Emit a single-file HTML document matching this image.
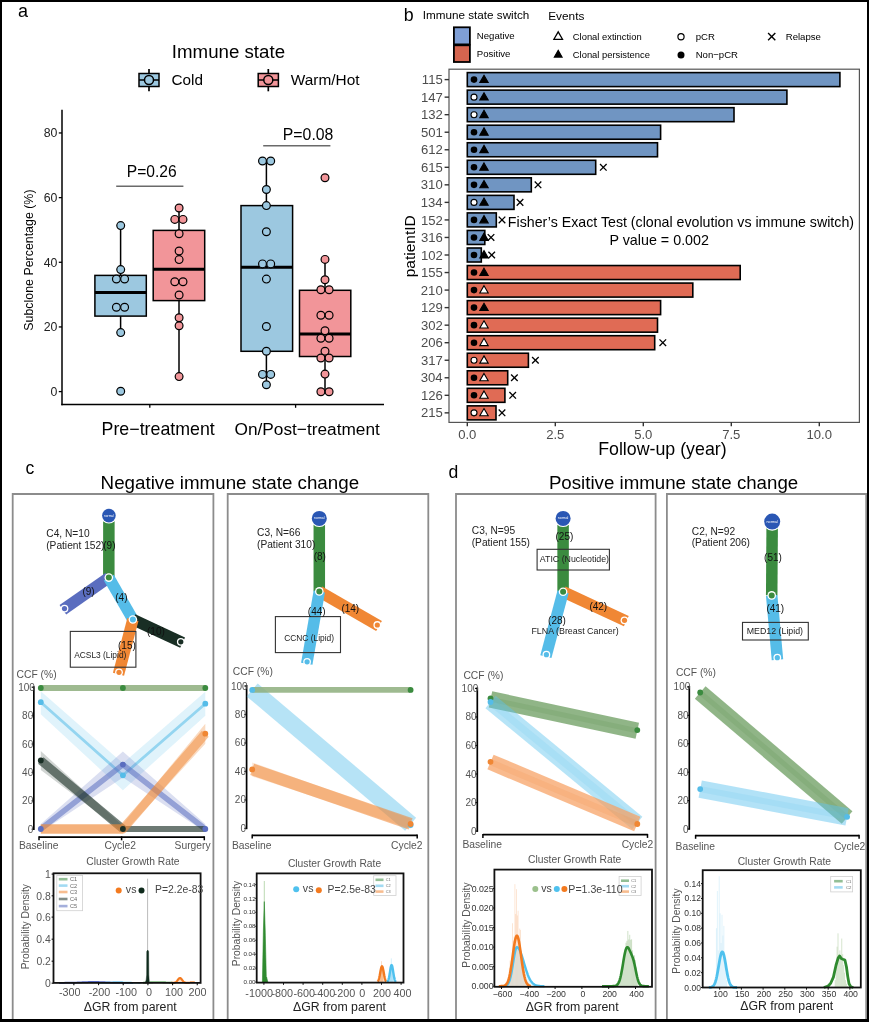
<!DOCTYPE html>
<html><head><meta charset="utf-8"><style>
html,body{margin:0;padding:0;background:#fff;}
svg{display:block;will-change:transform;}
text{font-family:"Liberation Sans", sans-serif;}
</style></head><body>
<svg width="869" height="1022" viewBox="0 0 869 1022">
<rect x="0" y="0" width="869" height="1022" fill="#fff"/>
<text x="18.03" y="17.30" font-size="18.00" fill="#000" text-anchor="start">a</text>
<text x="171.82" y="57.60" font-size="18.70" fill="#000" text-anchor="start">Immune state</text>
<line x1="149.00" y1="69.00" x2="149.00" y2="91.30" stroke="#000" stroke-width="1.70"/>
<rect x="139.00" y="73.50" width="20.00" height="13.00" fill="#9CC8E0" stroke="#000" stroke-width="1.50"/>
<line x1="139.00" y1="80.00" x2="159.00" y2="80.00" stroke="#000" stroke-width="1.50"/>
<circle cx="149.00" cy="80.00" r="4.50" fill="#9CC8E0" stroke="#000" stroke-width="1.50"/>
<text x="171.44" y="85.30" font-size="15.30" fill="#000" text-anchor="start">Cold</text>
<line x1="268.30" y1="69.00" x2="268.30" y2="91.30" stroke="#000" stroke-width="1.70"/>
<rect x="258.20" y="73.50" width="20.20" height="13.00" fill="#F29599" stroke="#000" stroke-width="1.50"/>
<line x1="258.20" y1="80.00" x2="278.40" y2="80.00" stroke="#000" stroke-width="1.50"/>
<circle cx="268.30" cy="80.00" r="4.50" fill="#F29599" stroke="#000" stroke-width="1.50"/>
<text x="290.82" y="85.30" font-size="15.40" fill="#000" text-anchor="start">Warm/Hot</text>
<line x1="62.00" y1="109.80" x2="62.00" y2="405.20" stroke="#000" stroke-width="1.50"/>
<line x1="61.30" y1="404.50" x2="384.00" y2="404.50" stroke="#000" stroke-width="1.50"/>
<line x1="58.80" y1="391.60" x2="62.00" y2="391.60" stroke="#000" stroke-width="1.30"/>
<text x="57.44" y="395.90" font-size="12.30" fill="#222" text-anchor="end">0</text>
<line x1="58.80" y1="326.94" x2="62.00" y2="326.94" stroke="#000" stroke-width="1.30"/>
<text x="57.46" y="331.24" font-size="12.30" fill="#222" text-anchor="end">20</text>
<line x1="58.80" y1="262.28" x2="62.00" y2="262.28" stroke="#000" stroke-width="1.30"/>
<text x="57.46" y="266.58" font-size="12.30" fill="#222" text-anchor="end">40</text>
<line x1="58.80" y1="197.62" x2="62.00" y2="197.62" stroke="#000" stroke-width="1.30"/>
<text x="57.46" y="201.92" font-size="12.30" fill="#222" text-anchor="end">60</text>
<line x1="58.80" y1="132.96" x2="62.00" y2="132.96" stroke="#000" stroke-width="1.30"/>
<text x="57.46" y="137.26" font-size="12.30" fill="#222" text-anchor="end">80</text>
<line x1="149.80" y1="404.50" x2="149.80" y2="407.80" stroke="#000" stroke-width="1.30"/>
<line x1="295.60" y1="404.50" x2="295.60" y2="407.80" stroke="#000" stroke-width="1.30"/>
<text transform="translate(33.30 260.10) rotate(-90)" x="0" y="0" font-size="12.40" fill="#000" text-anchor="middle">Subclone Percentage (%)</text>
<text x="101.58" y="435.10" font-size="17.80" fill="#000" text-anchor="start">Pre−treatment</text>
<text x="234.52" y="435.10" font-size="17.25" fill="#000" text-anchor="start">On/Post−treatment</text>
<line x1="116.20" y1="186.20" x2="183.40" y2="186.20" stroke="#6A6A6A" stroke-width="1.60"/>
<text x="126.75" y="176.80" font-size="15.60" fill="#000" text-anchor="start">P=0.26</text>
<line x1="263.20" y1="145.70" x2="330.40" y2="145.70" stroke="#6A6A6A" stroke-width="1.60"/>
<text x="282.84" y="139.80" font-size="15.80" fill="#000" text-anchor="start">P=0.08</text>
<line x1="120.60" y1="225.60" x2="120.60" y2="275.40" stroke="#000" stroke-width="1.50"/>
<line x1="120.60" y1="316.10" x2="120.60" y2="332.60" stroke="#000" stroke-width="1.50"/>
<rect x="94.90" y="275.40" width="51.40" height="40.70" fill="#9CC8E0" stroke="#000" stroke-width="1.50"/>
<line x1="94.90" y1="292.60" x2="146.30" y2="292.60" stroke="#000" stroke-width="3.00"/>
<line x1="179.00" y1="208.00" x2="179.00" y2="230.40" stroke="#000" stroke-width="1.50"/>
<line x1="179.00" y1="300.60" x2="179.00" y2="376.60" stroke="#000" stroke-width="1.50"/>
<rect x="153.20" y="230.40" width="51.50" height="70.20" fill="#F29599" stroke="#000" stroke-width="1.50"/>
<line x1="153.20" y1="269.30" x2="204.70" y2="269.30" stroke="#000" stroke-width="3.00"/>
<line x1="266.40" y1="161.00" x2="266.40" y2="205.60" stroke="#000" stroke-width="1.50"/>
<line x1="266.40" y1="351.30" x2="266.40" y2="384.70" stroke="#000" stroke-width="1.50"/>
<rect x="241.00" y="205.60" width="51.60" height="145.70" fill="#9CC8E0" stroke="#000" stroke-width="1.50"/>
<line x1="241.00" y1="267.30" x2="292.60" y2="267.30" stroke="#000" stroke-width="3.00"/>
<line x1="325.00" y1="259.40" x2="325.00" y2="290.30" stroke="#000" stroke-width="1.50"/>
<line x1="325.00" y1="356.50" x2="325.00" y2="391.70" stroke="#000" stroke-width="1.50"/>
<rect x="299.50" y="290.30" width="51.30" height="66.20" fill="#F29599" stroke="#000" stroke-width="1.50"/>
<line x1="299.50" y1="334.00" x2="350.80" y2="334.00" stroke="#000" stroke-width="3.00"/>
<circle cx="120.70" cy="225.60" r="3.90" fill="#9CC8E0" stroke="#000" stroke-width="1.20"/>
<circle cx="120.70" cy="269.60" r="3.90" fill="#9CC8E0" stroke="#000" stroke-width="1.20"/>
<circle cx="116.40" cy="279.00" r="3.90" fill="#9CC8E0" stroke="#000" stroke-width="1.20"/>
<circle cx="124.60" cy="279.00" r="3.90" fill="#9CC8E0" stroke="#000" stroke-width="1.20"/>
<circle cx="116.40" cy="307.20" r="3.90" fill="#9CC8E0" stroke="#000" stroke-width="1.20"/>
<circle cx="124.60" cy="307.20" r="3.90" fill="#9CC8E0" stroke="#000" stroke-width="1.20"/>
<circle cx="120.70" cy="332.60" r="3.90" fill="#9CC8E0" stroke="#000" stroke-width="1.20"/>
<circle cx="120.70" cy="391.20" r="3.90" fill="#9CC8E0" stroke="#000" stroke-width="1.20"/>
<circle cx="179.10" cy="208.00" r="3.90" fill="#F29599" stroke="#000" stroke-width="1.20"/>
<circle cx="174.80" cy="219.40" r="3.90" fill="#F29599" stroke="#000" stroke-width="1.20"/>
<circle cx="183.00" cy="219.40" r="3.90" fill="#F29599" stroke="#000" stroke-width="1.20"/>
<circle cx="179.10" cy="233.80" r="3.90" fill="#F29599" stroke="#000" stroke-width="1.20"/>
<circle cx="179.10" cy="251.00" r="3.90" fill="#F29599" stroke="#000" stroke-width="1.20"/>
<circle cx="179.10" cy="259.60" r="3.90" fill="#F29599" stroke="#000" stroke-width="1.20"/>
<circle cx="174.80" cy="281.80" r="3.90" fill="#F29599" stroke="#000" stroke-width="1.20"/>
<circle cx="183.00" cy="281.80" r="3.90" fill="#F29599" stroke="#000" stroke-width="1.20"/>
<circle cx="179.10" cy="295.00" r="3.90" fill="#F29599" stroke="#000" stroke-width="1.20"/>
<circle cx="179.10" cy="317.80" r="3.90" fill="#F29599" stroke="#000" stroke-width="1.20"/>
<circle cx="179.10" cy="325.80" r="3.90" fill="#F29599" stroke="#000" stroke-width="1.20"/>
<circle cx="179.10" cy="376.60" r="3.90" fill="#F29599" stroke="#000" stroke-width="1.20"/>
<circle cx="262.50" cy="161.00" r="3.90" fill="#9CC8E0" stroke="#000" stroke-width="1.20"/>
<circle cx="270.70" cy="161.00" r="3.90" fill="#9CC8E0" stroke="#000" stroke-width="1.20"/>
<circle cx="266.40" cy="189.50" r="3.90" fill="#9CC8E0" stroke="#000" stroke-width="1.20"/>
<circle cx="266.40" cy="205.60" r="3.90" fill="#9CC8E0" stroke="#000" stroke-width="1.20"/>
<circle cx="266.40" cy="231.70" r="3.90" fill="#9CC8E0" stroke="#000" stroke-width="1.20"/>
<circle cx="262.50" cy="263.90" r="3.90" fill="#9CC8E0" stroke="#000" stroke-width="1.20"/>
<circle cx="270.70" cy="263.90" r="3.90" fill="#9CC8E0" stroke="#000" stroke-width="1.20"/>
<circle cx="266.40" cy="279.10" r="3.90" fill="#9CC8E0" stroke="#000" stroke-width="1.20"/>
<circle cx="266.40" cy="326.50" r="3.90" fill="#9CC8E0" stroke="#000" stroke-width="1.20"/>
<circle cx="266.40" cy="351.30" r="3.90" fill="#9CC8E0" stroke="#000" stroke-width="1.20"/>
<circle cx="262.50" cy="374.40" r="3.90" fill="#9CC8E0" stroke="#000" stroke-width="1.20"/>
<circle cx="270.70" cy="374.40" r="3.90" fill="#9CC8E0" stroke="#000" stroke-width="1.20"/>
<circle cx="266.40" cy="384.70" r="3.90" fill="#9CC8E0" stroke="#000" stroke-width="1.20"/>
<circle cx="325.00" cy="177.70" r="3.90" fill="#F29599" stroke="#000" stroke-width="1.20"/>
<circle cx="325.00" cy="259.40" r="3.90" fill="#F29599" stroke="#000" stroke-width="1.20"/>
<circle cx="325.00" cy="279.70" r="3.90" fill="#F29599" stroke="#000" stroke-width="1.20"/>
<circle cx="320.90" cy="289.70" r="3.90" fill="#F29599" stroke="#000" stroke-width="1.20"/>
<circle cx="329.10" cy="289.70" r="3.90" fill="#F29599" stroke="#000" stroke-width="1.20"/>
<circle cx="320.90" cy="315.20" r="3.90" fill="#F29599" stroke="#000" stroke-width="1.20"/>
<circle cx="329.10" cy="315.20" r="3.90" fill="#F29599" stroke="#000" stroke-width="1.20"/>
<circle cx="325.00" cy="330.70" r="3.90" fill="#F29599" stroke="#000" stroke-width="1.20"/>
<circle cx="320.90" cy="338.30" r="3.90" fill="#F29599" stroke="#000" stroke-width="1.20"/>
<circle cx="329.10" cy="338.30" r="3.90" fill="#F29599" stroke="#000" stroke-width="1.20"/>
<circle cx="325.00" cy="351.30" r="3.90" fill="#F29599" stroke="#000" stroke-width="1.20"/>
<circle cx="320.90" cy="358.00" r="3.90" fill="#F29599" stroke="#000" stroke-width="1.20"/>
<circle cx="329.10" cy="358.00" r="3.90" fill="#F29599" stroke="#000" stroke-width="1.20"/>
<circle cx="325.00" cy="374.10" r="3.90" fill="#F29599" stroke="#000" stroke-width="1.20"/>
<circle cx="320.90" cy="391.70" r="3.90" fill="#F29599" stroke="#000" stroke-width="1.20"/>
<circle cx="329.10" cy="391.70" r="3.90" fill="#F29599" stroke="#000" stroke-width="1.20"/>
<text x="403.84" y="21.40" font-size="17.80" fill="#000" text-anchor="start">b</text>
<text x="422.75" y="19.00" font-size="11.70" fill="#000" text-anchor="start">Immune state switch</text>
<text x="548.26" y="19.70" font-size="11.80" fill="#000" text-anchor="start">Events</text>
<rect x="453.90" y="27.30" width="16.00" height="17.10" fill="#7F9FD6" stroke="#000" stroke-width="1.80"/>
<rect x="453.90" y="45.30" width="16.00" height="16.70" fill="#D5654F" stroke="#000" stroke-width="1.80"/>
<text x="476.83" y="39.40" font-size="9.60" fill="#000" text-anchor="start">Negative</text>
<text x="476.83" y="57.00" font-size="9.60" fill="#000" text-anchor="start">Positive</text>
<path d="M558.20 31.83 L562.50 39.28 L553.90 39.28 Z" fill="#fff" stroke="#000" stroke-width="1.30" stroke-linejoin="miter"/>
<path d="M558.20 50.35 L562.10 57.10 L554.30 57.10 Z" fill="#000" stroke="#000" stroke-width="1.10" stroke-linejoin="miter"/>
<text x="572.83" y="39.80" font-size="9.40" fill="#000" text-anchor="start">Clonal extinction</text>
<text x="572.83" y="58.00" font-size="9.40" fill="#000" text-anchor="start">Clonal persistence</text>
<circle cx="681.00" cy="36.80" r="3.10" fill="#fff" stroke="#000" stroke-width="1.20"/>
<circle cx="681.00" cy="54.90" r="3.50" fill="#000" stroke="none" stroke-width="1.00"/>
<text x="695.78" y="39.80" font-size="9.60" fill="#000" text-anchor="start">pCR</text>
<text x="695.63" y="58.00" font-size="9.60" fill="#000" text-anchor="start">Non−pCR</text>
<line x1="768.10" y1="33.10" x2="775.30" y2="40.30" stroke="#000" stroke-width="1.40"/>
<line x1="768.10" y1="40.30" x2="775.30" y2="33.10" stroke="#000" stroke-width="1.40"/>
<text x="785.73" y="39.80" font-size="9.60" fill="#000" text-anchor="start">Relapse</text>
<rect x="449.00" y="69.20" width="410.40" height="353.20" fill="#fff" stroke="#555" stroke-width="1.20"/>
<rect x="467.30" y="72.60" width="372.60" height="14.00" fill="#7095C2" stroke="#000" stroke-width="1.60"/>
<circle cx="474.00" cy="79.60" r="3.30" fill="#000" stroke="none" stroke-width="1.00"/>
<path d="M484.00 75.24 L488.20 82.51 L479.80 82.51 Z" fill="#000" stroke="#000" stroke-width="1.10" stroke-linejoin="miter"/>
<line x1="444.60" y1="79.60" x2="449.00" y2="79.60" stroke="#333" stroke-width="1.40"/>
<text x="442.71" y="84.20" font-size="13.10" fill="#4D4D4D" text-anchor="end">115</text>
<rect x="467.30" y="90.14" width="319.60" height="14.00" fill="#7095C2" stroke="#000" stroke-width="1.60"/>
<circle cx="474.00" cy="97.14" r="3.00" fill="#fff" stroke="#000" stroke-width="1.10"/>
<path d="M484.00 92.78 L488.20 100.05 L479.80 100.05 Z" fill="#000" stroke="#000" stroke-width="1.10" stroke-linejoin="miter"/>
<line x1="444.60" y1="97.14" x2="449.00" y2="97.14" stroke="#333" stroke-width="1.40"/>
<text x="442.90" y="101.74" font-size="13.10" fill="#4D4D4D" text-anchor="end">147</text>
<rect x="467.30" y="107.68" width="266.70" height="14.00" fill="#7095C2" stroke="#000" stroke-width="1.60"/>
<circle cx="474.00" cy="114.68" r="3.00" fill="#fff" stroke="#000" stroke-width="1.10"/>
<path d="M484.00 110.32 L488.20 117.59 L479.80 117.59 Z" fill="#000" stroke="#000" stroke-width="1.10" stroke-linejoin="miter"/>
<line x1="444.60" y1="114.68" x2="449.00" y2="114.68" stroke="#333" stroke-width="1.40"/>
<text x="442.90" y="119.28" font-size="13.10" fill="#4D4D4D" text-anchor="end">132</text>
<rect x="467.30" y="125.22" width="193.30" height="14.00" fill="#7095C2" stroke="#000" stroke-width="1.60"/>
<circle cx="474.00" cy="132.22" r="3.30" fill="#000" stroke="none" stroke-width="1.00"/>
<path d="M484.00 127.86 L488.20 135.13 L479.80 135.13 Z" fill="#000" stroke="#000" stroke-width="1.10" stroke-linejoin="miter"/>
<line x1="444.60" y1="132.22" x2="449.00" y2="132.22" stroke="#333" stroke-width="1.40"/>
<text x="442.84" y="136.82" font-size="13.10" fill="#4D4D4D" text-anchor="end">501</text>
<rect x="467.30" y="142.76" width="190.20" height="14.00" fill="#7095C2" stroke="#000" stroke-width="1.60"/>
<circle cx="474.00" cy="149.76" r="3.30" fill="#000" stroke="none" stroke-width="1.00"/>
<path d="M484.00 145.40 L488.20 152.67 L479.80 152.67 Z" fill="#000" stroke="#000" stroke-width="1.10" stroke-linejoin="miter"/>
<line x1="444.60" y1="149.76" x2="449.00" y2="149.76" stroke="#333" stroke-width="1.40"/>
<text x="442.90" y="154.36" font-size="13.10" fill="#4D4D4D" text-anchor="end">612</text>
<rect x="467.30" y="160.30" width="128.40" height="14.00" fill="#7095C2" stroke="#000" stroke-width="1.60"/>
<circle cx="474.00" cy="167.30" r="3.30" fill="#000" stroke="none" stroke-width="1.00"/>
<path d="M484.00 162.94 L488.20 170.21 L479.80 170.21 Z" fill="#000" stroke="#000" stroke-width="1.10" stroke-linejoin="miter"/>
<line x1="600.00" y1="164.00" x2="606.60" y2="170.60" stroke="#000" stroke-width="1.30"/>
<line x1="600.00" y1="170.60" x2="606.60" y2="164.00" stroke="#000" stroke-width="1.30"/>
<line x1="444.60" y1="167.30" x2="449.00" y2="167.30" stroke="#333" stroke-width="1.40"/>
<text x="442.77" y="171.90" font-size="13.10" fill="#4D4D4D" text-anchor="end">615</text>
<rect x="467.30" y="177.84" width="64.00" height="14.00" fill="#7095C2" stroke="#000" stroke-width="1.60"/>
<circle cx="474.00" cy="184.84" r="3.30" fill="#000" stroke="none" stroke-width="1.00"/>
<path d="M484.00 180.48 L488.20 187.75 L479.80 187.75 Z" fill="#000" stroke="#000" stroke-width="1.10" stroke-linejoin="miter"/>
<line x1="534.70" y1="181.54" x2="541.30" y2="188.14" stroke="#000" stroke-width="1.30"/>
<line x1="534.70" y1="188.14" x2="541.30" y2="181.54" stroke="#000" stroke-width="1.30"/>
<line x1="444.60" y1="184.84" x2="449.00" y2="184.84" stroke="#333" stroke-width="1.40"/>
<text x="442.70" y="189.44" font-size="13.10" fill="#4D4D4D" text-anchor="end">310</text>
<rect x="467.30" y="195.38" width="46.70" height="14.00" fill="#7095C2" stroke="#000" stroke-width="1.60"/>
<circle cx="474.00" cy="202.38" r="3.00" fill="#fff" stroke="#000" stroke-width="1.10"/>
<path d="M484.00 198.02 L488.20 205.29 L479.80 205.29 Z" fill="#000" stroke="#000" stroke-width="1.10" stroke-linejoin="miter"/>
<line x1="516.70" y1="199.08" x2="523.30" y2="205.68" stroke="#000" stroke-width="1.30"/>
<line x1="516.70" y1="205.68" x2="523.30" y2="199.08" stroke="#000" stroke-width="1.30"/>
<line x1="444.60" y1="202.38" x2="449.00" y2="202.38" stroke="#333" stroke-width="1.40"/>
<text x="442.64" y="206.98" font-size="13.10" fill="#4D4D4D" text-anchor="end">134</text>
<rect x="467.30" y="212.92" width="29.00" height="14.00" fill="#7095C2" stroke="#000" stroke-width="1.60"/>
<circle cx="474.00" cy="219.92" r="3.30" fill="#000" stroke="none" stroke-width="1.00"/>
<path d="M484.00 215.56 L488.20 222.83 L479.80 222.83 Z" fill="#000" stroke="#000" stroke-width="1.10" stroke-linejoin="miter"/>
<line x1="498.70" y1="216.62" x2="505.30" y2="223.22" stroke="#000" stroke-width="1.30"/>
<line x1="498.70" y1="223.22" x2="505.30" y2="216.62" stroke="#000" stroke-width="1.30"/>
<line x1="444.60" y1="219.92" x2="449.00" y2="219.92" stroke="#333" stroke-width="1.40"/>
<text x="442.90" y="224.52" font-size="13.10" fill="#4D4D4D" text-anchor="end">152</text>
<rect x="467.30" y="230.46" width="17.50" height="14.00" fill="#7095C2" stroke="#000" stroke-width="1.60"/>
<circle cx="474.00" cy="237.46" r="3.30" fill="#000" stroke="none" stroke-width="1.00"/>
<path d="M484.00 233.10 L488.20 240.37 L479.80 240.37 Z" fill="#000" stroke="#000" stroke-width="1.10" stroke-linejoin="miter"/>
<line x1="487.70" y1="234.16" x2="494.30" y2="240.76" stroke="#000" stroke-width="1.30"/>
<line x1="487.70" y1="240.76" x2="494.30" y2="234.16" stroke="#000" stroke-width="1.30"/>
<line x1="444.60" y1="237.46" x2="449.00" y2="237.46" stroke="#333" stroke-width="1.40"/>
<text x="442.77" y="242.06" font-size="13.10" fill="#4D4D4D" text-anchor="end">316</text>
<rect x="467.30" y="248.00" width="14.00" height="14.00" fill="#7095C2" stroke="#000" stroke-width="1.60"/>
<circle cx="474.00" cy="255.00" r="3.30" fill="#000" stroke="none" stroke-width="1.00"/>
<path d="M484.00 250.64 L488.20 257.91 L479.80 257.91 Z" fill="#000" stroke="#000" stroke-width="1.10" stroke-linejoin="miter"/>
<line x1="488.40" y1="251.70" x2="495.00" y2="258.30" stroke="#000" stroke-width="1.30"/>
<line x1="488.40" y1="258.30" x2="495.00" y2="251.70" stroke="#000" stroke-width="1.30"/>
<line x1="444.60" y1="255.00" x2="449.00" y2="255.00" stroke="#333" stroke-width="1.40"/>
<text x="442.90" y="259.60" font-size="13.10" fill="#4D4D4D" text-anchor="end">102</text>
<rect x="467.30" y="265.54" width="272.90" height="14.00" fill="#E06B55" stroke="#000" stroke-width="1.60"/>
<circle cx="474.00" cy="272.54" r="3.30" fill="#000" stroke="none" stroke-width="1.00"/>
<path d="M484.00 268.18 L488.20 275.45 L479.80 275.45 Z" fill="#000" stroke="#000" stroke-width="1.10" stroke-linejoin="miter"/>
<line x1="444.60" y1="272.54" x2="449.00" y2="272.54" stroke="#333" stroke-width="1.40"/>
<text x="442.77" y="277.14" font-size="13.10" fill="#4D4D4D" text-anchor="end">155</text>
<rect x="467.30" y="283.08" width="225.50" height="14.00" fill="#E06B55" stroke="#000" stroke-width="1.60"/>
<circle cx="474.00" cy="290.08" r="3.30" fill="#000" stroke="none" stroke-width="1.00"/>
<path d="M484.00 285.72 L488.20 292.99 L479.80 292.99 Z" fill="#fff" stroke="#000" stroke-width="1.10" stroke-linejoin="miter"/>
<line x1="444.60" y1="290.08" x2="449.00" y2="290.08" stroke="#333" stroke-width="1.40"/>
<text x="442.70" y="294.68" font-size="13.10" fill="#4D4D4D" text-anchor="end">210</text>
<rect x="467.30" y="300.62" width="193.30" height="14.00" fill="#E06B55" stroke="#000" stroke-width="1.60"/>
<circle cx="474.00" cy="307.62" r="3.30" fill="#000" stroke="none" stroke-width="1.00"/>
<path d="M484.00 303.26 L488.20 310.53 L479.80 310.53 Z" fill="#000" stroke="#000" stroke-width="1.10" stroke-linejoin="miter"/>
<line x1="444.60" y1="307.62" x2="449.00" y2="307.62" stroke="#333" stroke-width="1.40"/>
<text x="442.84" y="312.22" font-size="13.10" fill="#4D4D4D" text-anchor="end">129</text>
<rect x="467.30" y="318.16" width="190.20" height="14.00" fill="#E06B55" stroke="#000" stroke-width="1.60"/>
<circle cx="474.00" cy="325.16" r="3.30" fill="#000" stroke="none" stroke-width="1.00"/>
<path d="M484.00 320.80 L488.20 328.07 L479.80 328.07 Z" fill="#fff" stroke="#000" stroke-width="1.10" stroke-linejoin="miter"/>
<line x1="444.60" y1="325.16" x2="449.00" y2="325.16" stroke="#333" stroke-width="1.40"/>
<text x="442.90" y="329.76" font-size="13.10" fill="#4D4D4D" text-anchor="end">302</text>
<rect x="467.30" y="335.70" width="187.40" height="14.00" fill="#E06B55" stroke="#000" stroke-width="1.60"/>
<circle cx="474.00" cy="342.70" r="3.30" fill="#000" stroke="none" stroke-width="1.00"/>
<path d="M484.00 338.34 L488.20 345.61 L479.80 345.61 Z" fill="#fff" stroke="#000" stroke-width="1.10" stroke-linejoin="miter"/>
<line x1="659.50" y1="339.40" x2="666.10" y2="346.00" stroke="#000" stroke-width="1.30"/>
<line x1="659.50" y1="346.00" x2="666.10" y2="339.40" stroke="#000" stroke-width="1.30"/>
<line x1="444.60" y1="342.70" x2="449.00" y2="342.70" stroke="#333" stroke-width="1.40"/>
<text x="442.77" y="347.30" font-size="13.10" fill="#4D4D4D" text-anchor="end">206</text>
<rect x="467.30" y="353.24" width="61.10" height="14.00" fill="#E06B55" stroke="#000" stroke-width="1.60"/>
<circle cx="474.00" cy="360.24" r="3.00" fill="#fff" stroke="#000" stroke-width="1.10"/>
<path d="M484.00 355.88 L488.20 363.15 L479.80 363.15 Z" fill="#fff" stroke="#000" stroke-width="1.10" stroke-linejoin="miter"/>
<line x1="532.10" y1="356.94" x2="538.70" y2="363.54" stroke="#000" stroke-width="1.30"/>
<line x1="532.10" y1="363.54" x2="538.70" y2="356.94" stroke="#000" stroke-width="1.30"/>
<line x1="444.60" y1="360.24" x2="449.00" y2="360.24" stroke="#333" stroke-width="1.40"/>
<text x="442.90" y="364.84" font-size="13.10" fill="#4D4D4D" text-anchor="end">317</text>
<rect x="467.30" y="370.78" width="40.40" height="14.00" fill="#E06B55" stroke="#000" stroke-width="1.60"/>
<circle cx="474.00" cy="377.78" r="3.30" fill="#000" stroke="none" stroke-width="1.00"/>
<path d="M484.00 373.42 L488.20 380.69 L479.80 380.69 Z" fill="#fff" stroke="#000" stroke-width="1.10" stroke-linejoin="miter"/>
<line x1="511.10" y1="374.48" x2="517.70" y2="381.08" stroke="#000" stroke-width="1.30"/>
<line x1="511.10" y1="381.08" x2="517.70" y2="374.48" stroke="#000" stroke-width="1.30"/>
<line x1="444.60" y1="377.78" x2="449.00" y2="377.78" stroke="#333" stroke-width="1.40"/>
<text x="442.64" y="382.38" font-size="13.10" fill="#4D4D4D" text-anchor="end">304</text>
<rect x="467.30" y="388.32" width="37.60" height="14.00" fill="#E06B55" stroke="#000" stroke-width="1.60"/>
<circle cx="474.00" cy="395.32" r="3.30" fill="#000" stroke="none" stroke-width="1.00"/>
<path d="M484.00 390.96 L488.20 398.23 L479.80 398.23 Z" fill="#fff" stroke="#000" stroke-width="1.10" stroke-linejoin="miter"/>
<line x1="509.40" y1="392.02" x2="516.00" y2="398.62" stroke="#000" stroke-width="1.30"/>
<line x1="509.40" y1="398.62" x2="516.00" y2="392.02" stroke="#000" stroke-width="1.30"/>
<line x1="444.60" y1="395.32" x2="449.00" y2="395.32" stroke="#333" stroke-width="1.40"/>
<text x="442.77" y="399.92" font-size="13.10" fill="#4D4D4D" text-anchor="end">126</text>
<rect x="467.30" y="405.86" width="28.70" height="14.00" fill="#E06B55" stroke="#000" stroke-width="1.60"/>
<circle cx="474.00" cy="412.86" r="3.00" fill="#fff" stroke="#000" stroke-width="1.10"/>
<path d="M484.00 408.50 L488.20 415.77 L479.80 415.77 Z" fill="#fff" stroke="#000" stroke-width="1.10" stroke-linejoin="miter"/>
<line x1="498.70" y1="409.56" x2="505.30" y2="416.16" stroke="#000" stroke-width="1.30"/>
<line x1="498.70" y1="416.16" x2="505.30" y2="409.56" stroke="#000" stroke-width="1.30"/>
<line x1="444.60" y1="412.86" x2="449.00" y2="412.86" stroke="#333" stroke-width="1.40"/>
<text x="442.77" y="417.46" font-size="13.10" fill="#4D4D4D" text-anchor="end">215</text>
<line x1="467.30" y1="422.30" x2="467.30" y2="426.30" stroke="#333" stroke-width="1.40"/>
<text x="467.30" y="438.60" font-size="13.10" fill="#4D4D4D" text-anchor="middle">0.0</text>
<line x1="555.30" y1="422.30" x2="555.30" y2="426.30" stroke="#333" stroke-width="1.40"/>
<text x="555.30" y="438.60" font-size="13.10" fill="#4D4D4D" text-anchor="middle">2.5</text>
<line x1="643.30" y1="422.30" x2="643.30" y2="426.30" stroke="#333" stroke-width="1.40"/>
<text x="643.30" y="438.60" font-size="13.10" fill="#4D4D4D" text-anchor="middle">5.0</text>
<line x1="731.30" y1="422.30" x2="731.30" y2="426.30" stroke="#333" stroke-width="1.40"/>
<text x="731.30" y="438.60" font-size="13.10" fill="#4D4D4D" text-anchor="middle">7.5</text>
<line x1="819.30" y1="422.30" x2="819.30" y2="426.30" stroke="#333" stroke-width="1.40"/>
<text x="819.30" y="438.60" font-size="13.10" fill="#4D4D4D" text-anchor="middle">10.0</text>
<text x="598.18" y="454.50" font-size="17.80" fill="#000" text-anchor="start">Follow-up (year)</text>
<text transform="translate(414.50 246.30) rotate(-90)" x="0" y="0" font-size="15.50" fill="#000" text-anchor="middle">patientID</text>
<text x="507.86" y="227.30" font-size="14.20" fill="#000" text-anchor="start">Fisher’s Exact Test (clonal evolution vs immune switch)</text>
<text x="609.46" y="244.70" font-size="14.30" fill="#000" text-anchor="start">P value = 0.002</text>
<path d="M12.70 1022 L12.70 494 L213.40 494 L213.40 1022" fill="none" stroke="#8C8C8C" stroke-width="1.80"/>
<path d="M227.70 1022 L227.70 494 L428.30 494 L428.30 1022" fill="none" stroke="#8C8C8C" stroke-width="1.80"/>
<path d="M456.00 1022 L456.00 494 L655.60 494 L655.60 1022" fill="none" stroke="#8C8C8C" stroke-width="1.80"/>
<path d="M666.90 1022 L666.90 494 L866.20 494 L866.20 1022" fill="none" stroke="#8C8C8C" stroke-width="1.80"/>
<text x="25.50" y="474.10" font-size="17.60" fill="#000" text-anchor="start">c</text>
<text x="100.60" y="488.60" font-size="18.75" fill="#000" text-anchor="start">Negative immune state change</text>
<text x="448.50" y="477.60" font-size="17.60" fill="#000" text-anchor="start">d</text>
<text x="548.90" y="488.60" font-size="18.70" fill="#000" text-anchor="start">Positive immune state change</text>
<line x1="108.90" y1="515.60" x2="108.80" y2="577.60" stroke="#3B8B3F" stroke-width="11.50"/>
<line x1="108.80" y1="577.60" x2="62.86" y2="609.75" stroke="#5A6DBF" stroke-width="11.50"/>
<line x1="108.80" y1="577.60" x2="132.90" y2="619.50" stroke="#55BCE8" stroke-width="11.50"/>
<line x1="132.90" y1="619.50" x2="182.61" y2="642.64" stroke="#192E24" stroke-width="11.50"/>
<line x1="132.90" y1="619.50" x2="118.49" y2="674.23" stroke="#F08734" stroke-width="11.50"/>
<rect x="70.30" y="631.40" width="65.60" height="35.80" fill="none" stroke="#333" stroke-width="1.10"/>
<circle cx="108.90" cy="515.60" r="8.00" fill="#fff" stroke="none" stroke-width="1.00"/>
<circle cx="108.90" cy="515.60" r="6.80" fill="#2A57B4" stroke="none" stroke-width="1.00"/>
<text x="108.90" y="516.60" font-size="3.13" fill="#fff" text-anchor="middle">normal</text>
<circle cx="108.80" cy="577.60" r="4.30" fill="#fff" stroke="none" stroke-width="1.00"/>
<circle cx="108.80" cy="577.60" r="3.00" fill="#3B8B3F" stroke="none" stroke-width="1.00"/>
<circle cx="132.90" cy="619.50" r="4.30" fill="#fff" stroke="none" stroke-width="1.00"/>
<circle cx="132.90" cy="619.50" r="3.00" fill="#55BCE8" stroke="none" stroke-width="1.00"/>
<circle cx="64.50" cy="608.60" r="3.90" fill="#fff" stroke="none" stroke-width="1.00"/>
<circle cx="64.50" cy="608.60" r="2.60" fill="#5A6DBF" stroke="none" stroke-width="1.00"/>
<circle cx="180.80" cy="641.80" r="3.90" fill="#fff" stroke="none" stroke-width="1.00"/>
<circle cx="180.80" cy="641.80" r="2.60" fill="#192E24" stroke="none" stroke-width="1.00"/>
<circle cx="119.00" cy="672.30" r="3.90" fill="#fff" stroke="none" stroke-width="1.00"/>
<circle cx="119.00" cy="672.30" r="2.60" fill="#F08734" stroke="none" stroke-width="1.00"/>
<text x="46.29" y="536.80" font-size="10.20" fill="#222" text-anchor="start">C4, N=10</text>
<text x="46.19" y="548.90" font-size="10.20" fill="#222" text-anchor="start">(Patient 152)</text>
<text x="109.40" y="548.90" font-size="10.00" fill="#111" text-anchor="middle">(9)</text>
<text x="88.50" y="595.40" font-size="10.00" fill="#111" text-anchor="middle">(9)</text>
<text x="121.40" y="601.00" font-size="10.00" fill="#111" text-anchor="middle">(4)</text>
<text x="155.90" y="634.50" font-size="10.00" fill="#111" text-anchor="middle">(10)</text>
<text x="126.90" y="648.50" font-size="10.00" fill="#111" text-anchor="middle">(15)</text>
<text x="74.20" y="657.50" font-size="8.40" fill="#222" text-anchor="start">ACSL3 (Lipid)</text>
<line x1="319.30" y1="518.40" x2="319.30" y2="591.40" stroke="#3B8B3F" stroke-width="11.50"/>
<line x1="319.30" y1="591.40" x2="379.03" y2="626.00" stroke="#F08734" stroke-width="11.50"/>
<line x1="319.30" y1="591.40" x2="306.76" y2="663.77" stroke="#55BCE8" stroke-width="11.50"/>
<rect x="275.40" y="616.60" width="65.10" height="36.00" fill="none" stroke="#333" stroke-width="1.10"/>
<circle cx="319.30" cy="518.40" r="8.70" fill="#fff" stroke="none" stroke-width="1.00"/>
<circle cx="319.30" cy="518.40" r="7.50" fill="#2A57B4" stroke="none" stroke-width="1.00"/>
<text x="319.30" y="519.40" font-size="3.45" fill="#fff" text-anchor="middle">normal</text>
<circle cx="319.30" cy="591.40" r="4.30" fill="#fff" stroke="none" stroke-width="1.00"/>
<circle cx="319.30" cy="591.40" r="3.00" fill="#3B8B3F" stroke="none" stroke-width="1.00"/>
<circle cx="377.30" cy="625.00" r="3.90" fill="#fff" stroke="none" stroke-width="1.00"/>
<circle cx="377.30" cy="625.00" r="2.60" fill="#F08734" stroke="none" stroke-width="1.00"/>
<circle cx="307.10" cy="661.80" r="3.90" fill="#fff" stroke="none" stroke-width="1.00"/>
<circle cx="307.10" cy="661.80" r="2.60" fill="#55BCE8" stroke="none" stroke-width="1.00"/>
<text x="257.09" y="536.40" font-size="10.20" fill="#222" text-anchor="start">C3, N=66</text>
<text x="256.99" y="548.30" font-size="10.20" fill="#222" text-anchor="start">(Patient 310)</text>
<text x="319.80" y="559.80" font-size="10.00" fill="#111" text-anchor="middle">(8)</text>
<text x="350.30" y="612.00" font-size="10.00" fill="#111" text-anchor="middle">(14)</text>
<text x="316.70" y="615.10" font-size="10.00" fill="#111" text-anchor="middle">(44)</text>
<text x="284.18" y="640.70" font-size="8.40" fill="#222" text-anchor="start">CCNC (Lipid)</text>
<line x1="563.10" y1="518.40" x2="563.10" y2="591.80" stroke="#3B8B3F" stroke-width="11.50"/>
<line x1="563.10" y1="591.80" x2="626.31" y2="621.14" stroke="#F08734" stroke-width="11.50"/>
<line x1="563.10" y1="591.80" x2="545.89" y2="656.63" stroke="#55BCE8" stroke-width="11.50"/>
<rect x="537.10" y="549.30" width="72.30" height="20.70" fill="none" stroke="#333" stroke-width="1.10"/>
<circle cx="563.10" cy="518.40" r="8.70" fill="#fff" stroke="none" stroke-width="1.00"/>
<circle cx="563.10" cy="518.40" r="7.50" fill="#2A57B4" stroke="none" stroke-width="1.00"/>
<text x="563.10" y="519.40" font-size="3.45" fill="#fff" text-anchor="middle">normal</text>
<circle cx="563.10" cy="591.80" r="4.30" fill="#fff" stroke="none" stroke-width="1.00"/>
<circle cx="563.10" cy="591.80" r="3.00" fill="#3B8B3F" stroke="none" stroke-width="1.00"/>
<circle cx="624.50" cy="620.30" r="3.90" fill="#fff" stroke="none" stroke-width="1.00"/>
<circle cx="624.50" cy="620.30" r="2.60" fill="#F08734" stroke="none" stroke-width="1.00"/>
<circle cx="546.40" cy="654.70" r="3.90" fill="#fff" stroke="none" stroke-width="1.00"/>
<circle cx="546.40" cy="654.70" r="2.60" fill="#55BCE8" stroke="none" stroke-width="1.00"/>
<text x="471.79" y="534.30" font-size="10.20" fill="#222" text-anchor="start">C3, N=95</text>
<text x="471.69" y="546.20" font-size="10.20" fill="#222" text-anchor="start">(Patient 155)</text>
<text x="564.40" y="539.70" font-size="10.00" fill="#111" text-anchor="middle">(25)</text>
<text x="598.30" y="610.10" font-size="10.00" fill="#111" text-anchor="middle">(42)</text>
<text x="557.00" y="623.90" font-size="10.00" fill="#111" text-anchor="middle">(28)</text>
<text x="539.80" y="562.00" font-size="8.80" fill="#222" text-anchor="start">ATIC (Nucleotide)</text>
<text x="531.39" y="634.30" font-size="8.90" fill="#222" text-anchor="start">FLNA (Breast Cancer)</text>
<line x1="772.20" y1="521.60" x2="771.70" y2="595.40" stroke="#3B8B3F" stroke-width="11.50"/>
<line x1="771.70" y1="595.40" x2="777.48" y2="659.69" stroke="#55BCE8" stroke-width="11.50"/>
<rect x="742.50" y="622.40" width="65.80" height="17.60" fill="none" stroke="#333" stroke-width="1.10"/>
<circle cx="772.20" cy="521.60" r="9.20" fill="#fff" stroke="none" stroke-width="1.00"/>
<circle cx="772.20" cy="521.60" r="8.00" fill="#2A57B4" stroke="none" stroke-width="1.00"/>
<text x="772.20" y="522.60" font-size="3.68" fill="#fff" text-anchor="middle">normal</text>
<circle cx="771.70" cy="595.40" r="4.30" fill="#fff" stroke="none" stroke-width="1.00"/>
<circle cx="771.70" cy="595.40" r="3.00" fill="#3B8B3F" stroke="none" stroke-width="1.00"/>
<circle cx="777.30" cy="657.70" r="3.90" fill="#fff" stroke="none" stroke-width="1.00"/>
<circle cx="777.30" cy="657.70" r="2.60" fill="#55BCE8" stroke="none" stroke-width="1.00"/>
<text x="691.79" y="535.00" font-size="10.20" fill="#222" text-anchor="start">C2, N=92</text>
<text x="691.69" y="546.30" font-size="10.20" fill="#222" text-anchor="start">(Patient 206)</text>
<text x="773.00" y="560.50" font-size="10.00" fill="#111" text-anchor="middle">(51)</text>
<text x="775.30" y="611.60" font-size="10.00" fill="#111" text-anchor="middle">(41)</text>
<text x="746.80" y="634.20" font-size="8.80" fill="#222" text-anchor="start">MED12 (Lipid)</text>
<line x1="33.85" y1="686.20" x2="33.85" y2="830.00" stroke="#000" stroke-width="1.70"/>
<line x1="31.65" y1="829.20" x2="33.85" y2="829.20" stroke="#000" stroke-width="1.20"/>
<text x="33.21" y="832.70" font-size="10.00" fill="#555" text-anchor="end">0</text>
<line x1="31.65" y1="800.80" x2="33.85" y2="800.80" stroke="#000" stroke-width="1.20"/>
<text x="33.22" y="804.30" font-size="10.00" fill="#555" text-anchor="end">20</text>
<line x1="31.65" y1="772.40" x2="33.85" y2="772.40" stroke="#000" stroke-width="1.20"/>
<text x="33.22" y="775.90" font-size="10.00" fill="#555" text-anchor="end">40</text>
<line x1="31.65" y1="744.00" x2="33.85" y2="744.00" stroke="#000" stroke-width="1.20"/>
<text x="33.22" y="747.50" font-size="10.00" fill="#555" text-anchor="end">60</text>
<line x1="31.65" y1="715.60" x2="33.85" y2="715.60" stroke="#000" stroke-width="1.20"/>
<text x="33.22" y="719.10" font-size="10.00" fill="#555" text-anchor="end">80</text>
<line x1="31.65" y1="687.20" x2="33.85" y2="687.20" stroke="#000" stroke-width="1.20"/>
<text x="34.84" y="690.70" font-size="10.00" fill="#555" text-anchor="end">100</text>
<line x1="39.00" y1="837.10" x2="204.50" y2="837.10" stroke="#000" stroke-width="1.70"/>
<line x1="39.00" y1="836.30" x2="39.00" y2="840.30" stroke="#000" stroke-width="1.50"/>
<line x1="121.60" y1="836.30" x2="121.60" y2="840.30" stroke="#000" stroke-width="1.50"/>
<line x1="204.30" y1="836.30" x2="204.30" y2="840.30" stroke="#000" stroke-width="1.50"/>
<text x="16.59" y="678.10" font-size="10.30" fill="#555" text-anchor="start">CCF (%)</text>
<text x="18.88" y="849.00" font-size="10.30" fill="#555" text-anchor="start">Baseline</text>
<text x="104.48" y="849.00" font-size="10.30" fill="#555" text-anchor="start">Cycle2</text>
<text x="174.54" y="849.00" font-size="10.30" fill="#555" text-anchor="start">Surgery</text>
<text x="86.28" y="865.00" font-size="10.30" fill="#555" text-anchor="start">Cluster Growth Rate</text>
<path d="M40.80 691.20 L122.90 763.30 L205.30 691.70 L205.30 715.70 L122.90 790.30 L40.80 714.20 Z" fill="#55BCE8" stroke="none" stroke-width="1.00" fill-opacity="0.18"/>
<path d="M40.80 702.20 L122.90 775.30 L205.30 703.70" fill="none" stroke="#55BCE8" stroke-width="2.80" stroke-opacity="0.55" stroke-linecap="butt" stroke-linejoin="round"/>
<path d="M40.80 824.00 L122.90 751.60 L205.30 824.00 L205.30 832.00 L122.90 777.60 L40.80 832.00 Z" fill="#5A6DBF" stroke="none" stroke-width="1.00" fill-opacity="0.22"/>
<path d="M40.80 829.00 L122.90 764.60 L205.30 829.00" fill="none" stroke="#5A6DBF" stroke-width="5.50" stroke-opacity="0.55" stroke-linecap="butt" stroke-linejoin="round"/>
<path d="M40.80 751.00 L122.90 826.00 L205.30 826.00 L205.30 832.00 L122.90 832.00 L40.80 770.00 Z" fill="#192E24" stroke="none" stroke-width="1.00" fill-opacity="0.20"/>
<path d="M40.80 760.50 L122.90 829.00" fill="none" stroke="#192E24" stroke-width="8.50" stroke-opacity="0.60" stroke-linecap="butt" stroke-linejoin="round"/>
<path d="M122.90 829.00 L205.30 829.00" fill="none" stroke="#192E24" stroke-width="6.00" stroke-opacity="0.55" stroke-linecap="butt" stroke-linejoin="round"/>
<path d="M40.80 824.00 L122.90 824.00 L205.30 723.70 L205.30 743.70 L122.90 834.00 L40.80 834.00 Z" fill="#F08734" stroke="none" stroke-width="1.00" fill-opacity="0.30"/>
<path d="M40.80 829.00 L122.90 829.00 L205.30 733.70" fill="none" stroke="#F08734" stroke-width="9.00" stroke-opacity="0.50" stroke-linecap="butt" stroke-linejoin="round"/>
<path d="M40.80 688.00 L122.90 688.00 L205.30 688.00" fill="none" stroke="#8DAE7C" stroke-width="5.80" stroke-opacity="0.85" stroke-linecap="butt" stroke-linejoin="round"/>
<circle cx="40.80" cy="688.00" r="2.90" fill="#3B8B3F" stroke="none" stroke-width="1.00"/>
<circle cx="122.90" cy="688.00" r="2.90" fill="#3B8B3F" stroke="none" stroke-width="1.00"/>
<circle cx="205.30" cy="688.00" r="2.90" fill="#3B8B3F" stroke="none" stroke-width="1.00"/>
<circle cx="40.80" cy="702.20" r="2.90" fill="#55BCE8" stroke="none" stroke-width="1.00"/>
<circle cx="122.90" cy="775.30" r="2.90" fill="#55BCE8" stroke="none" stroke-width="1.00"/>
<circle cx="205.30" cy="703.70" r="2.90" fill="#55BCE8" stroke="none" stroke-width="1.00"/>
<circle cx="40.80" cy="829.00" r="2.90" fill="#5A6DBF" stroke="none" stroke-width="1.00"/>
<circle cx="122.90" cy="764.60" r="2.90" fill="#5A6DBF" stroke="none" stroke-width="1.00"/>
<circle cx="205.30" cy="829.00" r="2.90" fill="#5A6DBF" stroke="none" stroke-width="1.00"/>
<circle cx="40.80" cy="760.50" r="2.90" fill="#192E24" stroke="none" stroke-width="1.00"/>
<circle cx="122.90" cy="829.00" r="2.90" fill="#192E24" stroke="none" stroke-width="1.00"/>
<circle cx="205.30" cy="733.70" r="2.90" fill="#F08734" stroke="none" stroke-width="1.00"/>
<line x1="246.60" y1="685.00" x2="246.60" y2="829.20" stroke="#000" stroke-width="1.70"/>
<line x1="244.40" y1="828.40" x2="246.60" y2="828.40" stroke="#000" stroke-width="1.20"/>
<text x="245.96" y="831.90" font-size="10.00" fill="#555" text-anchor="end">0</text>
<line x1="244.40" y1="799.92" x2="246.60" y2="799.92" stroke="#000" stroke-width="1.20"/>
<text x="245.97" y="803.42" font-size="10.00" fill="#555" text-anchor="end">20</text>
<line x1="244.40" y1="771.44" x2="246.60" y2="771.44" stroke="#000" stroke-width="1.20"/>
<text x="245.97" y="774.94" font-size="10.00" fill="#555" text-anchor="end">40</text>
<line x1="244.40" y1="742.96" x2="246.60" y2="742.96" stroke="#000" stroke-width="1.20"/>
<text x="245.97" y="746.46" font-size="10.00" fill="#555" text-anchor="end">60</text>
<line x1="244.40" y1="714.48" x2="246.60" y2="714.48" stroke="#000" stroke-width="1.20"/>
<text x="245.97" y="717.98" font-size="10.00" fill="#555" text-anchor="end">80</text>
<line x1="244.40" y1="686.00" x2="246.60" y2="686.00" stroke="#000" stroke-width="1.20"/>
<text x="247.59" y="689.50" font-size="10.00" fill="#555" text-anchor="end">100</text>
<line x1="252.20" y1="835.40" x2="417.20" y2="835.40" stroke="#000" stroke-width="1.70"/>
<line x1="252.20" y1="834.60" x2="252.20" y2="838.60" stroke="#000" stroke-width="1.50"/>
<line x1="417.20" y1="834.60" x2="417.20" y2="838.60" stroke="#000" stroke-width="1.50"/>
<text x="232.79" y="675.30" font-size="10.30" fill="#555" text-anchor="start">CCF (%)</text>
<text x="231.88" y="848.60" font-size="10.30" fill="#555" text-anchor="start">Baseline</text>
<text x="391.09" y="848.60" font-size="10.30" fill="#555" text-anchor="start">Cycle2</text>
<text x="287.88" y="866.80" font-size="10.30" fill="#555" text-anchor="start">Cluster Growth Rate</text>
<path d="M252.20 689.90 L410.60 824.20" fill="none" stroke="#5EC0EC" stroke-width="17.00" stroke-opacity="0.45" stroke-linecap="butt" stroke-linejoin="round"/>
<path d="M252.20 769.40 L410.60 823.80" fill="none" stroke="#F08734" stroke-width="12.00" stroke-opacity="0.55" stroke-linecap="butt" stroke-linejoin="round"/>
<path d="M252.20 762.40 L410.60 818.80 L410.60 828.80 L252.20 776.40 Z" fill="#F08734" stroke="none" stroke-width="1.00" fill-opacity="0.20"/>
<path d="M252.20 689.90 L410.60 689.90" fill="none" stroke="#8DAE7C" stroke-width="5.80" stroke-opacity="0.85" stroke-linecap="butt" stroke-linejoin="round"/>
<circle cx="410.60" cy="689.90" r="2.90" fill="#3B8B3F" stroke="none" stroke-width="1.00"/>
<circle cx="252.20" cy="689.90" r="2.90" fill="#55BCE8" stroke="none" stroke-width="1.00"/>
<circle cx="410.60" cy="825.00" r="2.90" fill="#55BCE8" stroke="none" stroke-width="1.00"/>
<circle cx="252.20" cy="769.40" r="2.90" fill="#F08734" stroke="none" stroke-width="1.00"/>
<circle cx="410.60" cy="824.00" r="2.90" fill="#F08734" stroke="none" stroke-width="1.00"/>
<line x1="477.30" y1="687.40" x2="477.30" y2="831.90" stroke="#000" stroke-width="1.70"/>
<line x1="475.10" y1="831.10" x2="477.30" y2="831.10" stroke="#000" stroke-width="1.20"/>
<text x="476.66" y="834.60" font-size="10.00" fill="#555" text-anchor="end">0</text>
<line x1="475.10" y1="802.56" x2="477.30" y2="802.56" stroke="#000" stroke-width="1.20"/>
<text x="476.67" y="806.06" font-size="10.00" fill="#555" text-anchor="end">20</text>
<line x1="475.10" y1="774.02" x2="477.30" y2="774.02" stroke="#000" stroke-width="1.20"/>
<text x="476.67" y="777.52" font-size="10.00" fill="#555" text-anchor="end">40</text>
<line x1="475.10" y1="745.48" x2="477.30" y2="745.48" stroke="#000" stroke-width="1.20"/>
<text x="476.67" y="748.98" font-size="10.00" fill="#555" text-anchor="end">60</text>
<line x1="475.10" y1="716.94" x2="477.30" y2="716.94" stroke="#000" stroke-width="1.20"/>
<text x="476.67" y="720.44" font-size="10.00" fill="#555" text-anchor="end">80</text>
<line x1="475.10" y1="688.40" x2="477.30" y2="688.40" stroke="#000" stroke-width="1.20"/>
<text x="478.29" y="691.90" font-size="10.00" fill="#555" text-anchor="end">100</text>
<line x1="482.90" y1="834.70" x2="647.50" y2="834.70" stroke="#000" stroke-width="1.70"/>
<line x1="482.90" y1="833.90" x2="482.90" y2="837.90" stroke="#000" stroke-width="1.50"/>
<line x1="647.50" y1="833.90" x2="647.50" y2="837.90" stroke="#000" stroke-width="1.50"/>
<text x="463.38" y="678.50" font-size="10.30" fill="#555" text-anchor="start">CCF (%)</text>
<text x="462.38" y="847.80" font-size="10.30" fill="#555" text-anchor="start">Baseline</text>
<text x="621.69" y="847.80" font-size="10.30" fill="#555" text-anchor="start">Cycle2</text>
<text x="527.99" y="862.50" font-size="10.30" fill="#555" text-anchor="start">Cluster Growth Rate</text>
<path d="M490.50 699.40 L637.30 730.70" fill="none" stroke="#3F7F30" stroke-width="16.50" stroke-opacity="0.58" stroke-linecap="butt" stroke-linejoin="round"/>
<path d="M490.50 699.40 L637.30 730.70" fill="none" stroke="#3F7F30" stroke-width="5.00" stroke-opacity="0.12" stroke-linecap="butt" stroke-linejoin="round"/>
<path d="M490.50 702.00 L637.30 823.00" fill="none" stroke="#5EC3EE" stroke-width="16.00" stroke-opacity="0.45" stroke-linecap="butt" stroke-linejoin="round"/>
<path d="M490.50 702.00 L637.30 823.00" fill="none" stroke="#5EC3EE" stroke-width="7.00" stroke-opacity="0.15" stroke-linecap="butt" stroke-linejoin="round"/>
<path d="M490.50 762.00 L637.30 824.00" fill="none" stroke="#F6A061" stroke-width="16.00" stroke-opacity="0.72" stroke-linecap="butt" stroke-linejoin="round"/>
<path d="M490.50 762.00 L637.30 824.00" fill="none" stroke="#F08734" stroke-width="6.00" stroke-opacity="0.15" stroke-linecap="butt" stroke-linejoin="round"/>
<circle cx="490.50" cy="698.50" r="2.90" fill="#3B8B3F" stroke="none" stroke-width="1.00"/>
<circle cx="637.30" cy="730.10" r="2.90" fill="#3B8B3F" stroke="none" stroke-width="1.00"/>
<circle cx="490.50" cy="702.00" r="2.90" fill="#55BCE8" stroke="none" stroke-width="1.00"/>
<circle cx="490.50" cy="761.80" r="2.90" fill="#F08734" stroke="none" stroke-width="1.00"/>
<circle cx="637.30" cy="824.00" r="2.90" fill="#F08734" stroke="none" stroke-width="1.00"/>
<line x1="689.30" y1="685.90" x2="689.30" y2="829.80" stroke="#000" stroke-width="1.70"/>
<line x1="687.10" y1="829.00" x2="689.30" y2="829.00" stroke="#000" stroke-width="1.20"/>
<text x="688.66" y="832.50" font-size="10.00" fill="#555" text-anchor="end">0</text>
<line x1="687.10" y1="800.58" x2="689.30" y2="800.58" stroke="#000" stroke-width="1.20"/>
<text x="688.67" y="804.08" font-size="10.00" fill="#555" text-anchor="end">20</text>
<line x1="687.10" y1="772.16" x2="689.30" y2="772.16" stroke="#000" stroke-width="1.20"/>
<text x="688.67" y="775.66" font-size="10.00" fill="#555" text-anchor="end">40</text>
<line x1="687.10" y1="743.74" x2="689.30" y2="743.74" stroke="#000" stroke-width="1.20"/>
<text x="688.67" y="747.24" font-size="10.00" fill="#555" text-anchor="end">60</text>
<line x1="687.10" y1="715.32" x2="689.30" y2="715.32" stroke="#000" stroke-width="1.20"/>
<text x="688.67" y="718.82" font-size="10.00" fill="#555" text-anchor="end">80</text>
<line x1="687.10" y1="686.90" x2="689.30" y2="686.90" stroke="#000" stroke-width="1.20"/>
<text x="690.29" y="690.40" font-size="10.00" fill="#555" text-anchor="end">100</text>
<line x1="695.60" y1="835.60" x2="859.10" y2="835.60" stroke="#000" stroke-width="1.70"/>
<line x1="695.60" y1="834.80" x2="695.60" y2="838.80" stroke="#000" stroke-width="1.50"/>
<line x1="859.10" y1="834.80" x2="859.10" y2="838.80" stroke="#000" stroke-width="1.50"/>
<text x="675.88" y="676.40" font-size="10.30" fill="#555" text-anchor="start">CCF (%)</text>
<text x="675.58" y="849.50" font-size="10.30" fill="#555" text-anchor="start">Baseline</text>
<text x="833.88" y="849.50" font-size="10.30" fill="#555" text-anchor="start">Cycle2</text>
<text x="737.69" y="865.10" font-size="10.30" fill="#555" text-anchor="start">Cluster Growth Rate</text>
<path d="M700.20 692.50 L847.10 817.50" fill="none" stroke="#3F7F30" stroke-width="16.50" stroke-opacity="0.58" stroke-linecap="butt" stroke-linejoin="round"/>
<path d="M700.20 692.50 L847.10 817.50" fill="none" stroke="#3F7F30" stroke-width="5.00" stroke-opacity="0.12" stroke-linecap="butt" stroke-linejoin="round"/>
<path d="M700.20 789.10 L847.10 816.80" fill="none" stroke="#5EC3EE" stroke-width="17.50" stroke-opacity="0.48" stroke-linecap="butt" stroke-linejoin="round"/>
<path d="M700.20 789.10 L847.10 816.80" fill="none" stroke="#5EC3EE" stroke-width="6.00" stroke-opacity="0.15" stroke-linecap="butt" stroke-linejoin="round"/>
<circle cx="700.20" cy="692.50" r="2.90" fill="#3B8B3F" stroke="none" stroke-width="1.00"/>
<circle cx="700.20" cy="789.10" r="2.90" fill="#55BCE8" stroke="none" stroke-width="1.00"/>
<circle cx="847.10" cy="816.80" r="2.90" fill="#55BCE8" stroke="none" stroke-width="1.00"/>
<path d="M59.05 982.90 L59.05 982.89 L60.29 982.89 L61.52 982.89 L62.75 982.88 L63.99 982.88 L65.22 982.87 L66.46 982.86 L67.69 982.84 L68.92 982.83 L70.16 982.81 L71.39 982.78 L72.63 982.75 L73.86 982.72 L75.09 982.68 L76.33 982.64 L77.56 982.59 L78.80 982.54 L80.03 982.49 L81.26 982.43 L82.50 982.37 L83.73 982.31 L84.97 982.26 L86.20 982.20 L87.43 982.16 L88.67 982.11 L89.90 982.08 L91.14 982.05 L92.37 982.04 L93.60 982.03 L94.84 982.04 L96.07 982.05 L97.31 982.08 L98.54 982.11 L99.77 982.16 L101.01 982.20 L102.24 982.26 L103.48 982.31 L104.71 982.37 L105.94 982.43 L107.18 982.49 L108.41 982.54 L109.65 982.59 L110.88 982.64 L112.11 982.68 L113.35 982.72 L114.58 982.75 L115.82 982.78 L117.05 982.81 L118.28 982.83 L119.52 982.84 L120.75 982.86 L121.99 982.87 L123.22 982.88 L124.45 982.88 L125.69 982.89 L126.92 982.89 L128.16 982.89 L129.39 982.90 L130.62 982.90 L131.86 982.90 L133.09 982.90 L133.09 982.90 Z" fill="#5568BF" stroke="none" stroke-width="1.00" fill-opacity="0.35"/>
<path d="M59.05 982.89 L60.29 982.89 L61.52 982.89 L62.75 982.88 L63.99 982.88 L65.22 982.87 L66.46 982.86 L67.69 982.84 L68.92 982.83 L70.16 982.81 L71.39 982.78 L72.63 982.75 L73.86 982.72 L75.09 982.68 L76.33 982.64 L77.56 982.59 L78.80 982.54 L80.03 982.49 L81.26 982.43 L82.50 982.37 L83.73 982.31 L84.97 982.26 L86.20 982.20 L87.43 982.16 L88.67 982.11 L89.90 982.08 L91.14 982.05 L92.37 982.04 L93.60 982.03 L94.84 982.04 L96.07 982.05 L97.31 982.08 L98.54 982.11 L99.77 982.16 L101.01 982.20 L102.24 982.26 L103.48 982.31 L104.71 982.37 L105.94 982.43 L107.18 982.49 L108.41 982.54 L109.65 982.59 L110.88 982.64 L112.11 982.68 L113.35 982.72 L114.58 982.75 L115.82 982.78 L117.05 982.81 L118.28 982.83 L119.52 982.84 L120.75 982.86 L121.99 982.87 L123.22 982.88 L124.45 982.88 L125.69 982.89 L126.92 982.89 L128.16 982.89 L129.39 982.90 L130.62 982.90 L131.86 982.90 L133.09 982.90" fill="none" stroke="#5568BF" stroke-width="2.00" stroke-linejoin="round"/>
<path d="M98.54 982.83 L99.59 982.81 L100.64 982.79 L101.69 982.77 L102.74 982.74 L103.78 982.72 L104.83 982.69 L105.88 982.65 L106.93 982.62 L107.98 982.59 L109.03 982.55 L110.08 982.52 L111.13 982.48 L112.18 982.45 L113.22 982.42 L114.27 982.40 L115.32 982.38 L116.37 982.37 L117.42 982.36 L118.47 982.36 L119.52 982.36 L120.57 982.37 L121.62 982.39 L122.66 982.41 L123.71 982.43 L124.76 982.46 L125.81 982.49 L126.86 982.53 L127.91 982.56 L128.96 982.60 L130.01 982.63 L131.06 982.66 L132.10 982.70 L133.15 982.73 L134.20 982.75 L135.25 982.78 L136.30 982.80 L137.35 982.82 L138.40 982.83 L139.45 982.85 L140.50 982.86" fill="none" stroke="#4FC1EE" stroke-width="1.60" stroke-linejoin="round"/>
<path d="M142.96 982.69 L143.77 982.66 L144.57 982.63 L145.37 982.60 L146.17 982.57 L146.97 982.54 L147.78 982.51 L148.58 982.48 L149.38 982.45 L150.18 982.42 L150.99 982.39 L151.79 982.36 L152.59 982.33 L153.39 982.31 L154.19 982.29 L155.00 982.27 L155.80 982.26 L156.60 982.25 L157.40 982.25 L158.20 982.25 L159.01 982.25 L159.81 982.26 L160.61 982.27 L161.41 982.29 L162.21 982.31 L163.02 982.33 L163.82 982.36 L164.62 982.39 L165.42 982.42 L166.22 982.45 L167.03 982.48 L167.83 982.51 L168.63 982.54 L169.43 982.58 L170.24 982.61 L171.04 982.64 L171.84 982.66 L172.64 982.69 L173.44 982.72 L174.25 982.74 L175.05 982.76" fill="none" stroke="#2F8A2F" stroke-width="1.60" stroke-linejoin="round"/>
<path d="M171.35 982.90 L171.35 982.90 L171.72 982.90 L172.09 982.89 L172.46 982.88 L172.83 982.87 L173.20 982.85 L173.57 982.83 L173.94 982.78 L174.31 982.72 L174.68 982.62 L175.05 982.49 L175.42 982.32 L175.79 982.09 L176.16 981.80 L176.53 981.46 L176.90 981.06 L177.27 980.61 L177.64 980.13 L178.01 979.65 L178.38 979.18 L178.75 978.76 L179.12 978.42 L179.49 978.19 L179.86 978.08 L180.23 978.10 L180.60 978.26 L180.97 978.53 L181.34 978.90 L181.71 979.33 L182.08 979.81 L182.45 980.30 L182.82 980.77 L183.19 981.20 L183.56 981.58 L183.93 981.91 L184.30 982.17 L184.67 982.38 L185.04 982.54 L185.41 982.66 L185.78 982.74 L186.15 982.80 L186.52 982.84 L186.89 982.86 L187.26 982.88 L187.63 982.89 L188.00 982.89 L188.38 982.90 L188.75 982.90 L189.12 982.90 L189.49 982.90 L189.86 982.90 L189.86 982.90 Z" fill="#F37A1F" stroke="none" stroke-width="1.00" fill-opacity="0.25"/>
<path d="M171.35 982.90 L171.72 982.90 L172.09 982.89 L172.46 982.88 L172.83 982.87 L173.20 982.85 L173.57 982.83 L173.94 982.78 L174.31 982.72 L174.68 982.62 L175.05 982.49 L175.42 982.32 L175.79 982.09 L176.16 981.80 L176.53 981.46 L176.90 981.06 L177.27 980.61 L177.64 980.13 L178.01 979.65 L178.38 979.18 L178.75 978.76 L179.12 978.42 L179.49 978.19 L179.86 978.08 L180.23 978.10 L180.60 978.26 L180.97 978.53 L181.34 978.90 L181.71 979.33 L182.08 979.81 L182.45 980.30 L182.82 980.77 L183.19 981.20 L183.56 981.58 L183.93 981.91 L184.30 982.17 L184.67 982.38 L185.04 982.54 L185.41 982.66 L185.78 982.74 L186.15 982.80 L186.52 982.84 L186.89 982.86 L187.26 982.88 L187.63 982.89 L188.00 982.89 L188.38 982.90 L188.75 982.90 L189.12 982.90 L189.49 982.90 L189.86 982.90" fill="none" stroke="#F37A1F" stroke-width="2.20" stroke-linejoin="round"/>
<line x1="189.86" y1="982.10" x2="194.79" y2="982.10" stroke="#F37A1F" stroke-width="1.40"/>
<line x1="147.60" y1="878.70" x2="147.60" y2="982.00" stroke="#A8A8A8" stroke-width="0.80"/>
<path d="M145.2 982.9 L146.2 980 L146.7 975 L146.8 951.5 Q147.7 948.8 148.6 951.5 L148.8 975 L149.3 982.9 Z" fill="#0F2A1C" stroke="#0F2A1C" stroke-width="0.50"/>
<rect x="53.50" y="873.30" width="147.10" height="109.60" fill="none" stroke="#111" stroke-width="1.80"/>
<line x1="51.60" y1="874.10" x2="53.50" y2="874.10" stroke="#111" stroke-width="1.10"/>
<text x="50.88" y="877.80" font-size="10.40" fill="#555" text-anchor="end">1</text>
<line x1="51.60" y1="895.80" x2="53.50" y2="895.80" stroke="#111" stroke-width="1.10"/>
<text x="50.82" y="899.50" font-size="10.40" fill="#555" text-anchor="end">0.8</text>
<line x1="51.60" y1="917.10" x2="53.50" y2="917.10" stroke="#111" stroke-width="1.10"/>
<text x="50.82" y="920.80" font-size="10.40" fill="#555" text-anchor="end">0.6</text>
<line x1="51.60" y1="939.20" x2="53.50" y2="939.20" stroke="#111" stroke-width="1.10"/>
<text x="50.71" y="942.90" font-size="10.40" fill="#555" text-anchor="end">0.4</text>
<line x1="51.60" y1="961.20" x2="53.50" y2="961.20" stroke="#111" stroke-width="1.10"/>
<text x="50.92" y="964.90" font-size="10.40" fill="#555" text-anchor="end">0.2</text>
<line x1="51.60" y1="983.20" x2="53.50" y2="983.20" stroke="#111" stroke-width="1.10"/>
<text x="50.78" y="986.90" font-size="10.40" fill="#555" text-anchor="end">0</text>
<line x1="73.86" y1="982.90" x2="73.86" y2="985.20" stroke="#111" stroke-width="1.10"/>
<text x="69.70" y="996.00" font-size="10.80" fill="#555" text-anchor="middle">-300</text>
<line x1="98.54" y1="982.90" x2="98.54" y2="985.20" stroke="#111" stroke-width="1.10"/>
<text x="99.50" y="996.00" font-size="10.80" fill="#555" text-anchor="middle">-200</text>
<line x1="123.22" y1="982.90" x2="123.22" y2="985.20" stroke="#111" stroke-width="1.10"/>
<text x="126.20" y="996.00" font-size="10.80" fill="#555" text-anchor="middle">-100</text>
<line x1="147.90" y1="982.90" x2="147.90" y2="985.20" stroke="#111" stroke-width="1.10"/>
<text x="149.00" y="996.00" font-size="10.80" fill="#555" text-anchor="middle">0</text>
<line x1="172.58" y1="982.90" x2="172.58" y2="985.20" stroke="#111" stroke-width="1.10"/>
<text x="174.10" y="996.00" font-size="10.80" fill="#555" text-anchor="middle">100</text>
<line x1="197.26" y1="982.90" x2="197.26" y2="985.20" stroke="#111" stroke-width="1.10"/>
<text x="197.60" y="996.00" font-size="10.80" fill="#555" text-anchor="middle">200</text>
<text x="83.73" y="1010.50" font-size="12.30" fill="#222" text-anchor="start">ΔGR from parent</text>
<text transform="translate(29.30 926.70) rotate(-90)" x="0" y="0" font-size="10.30" fill="#555" text-anchor="middle">Probability Density</text>
<rect x="56.80" y="875.40" width="25.80" height="35.30" fill="#fff" stroke="#D0D0D0" stroke-width="0.80"/>
<line x1="58.80" y1="879.20" x2="67.50" y2="879.20" stroke="#3B8B3F" stroke-width="2.60" stroke-opacity="0.55"/>
<text x="70.02" y="881.22" font-size="5.60" fill="#666" text-anchor="start">C1</text>
<line x1="58.80" y1="885.60" x2="67.50" y2="885.60" stroke="#55BCE8" stroke-width="2.60" stroke-opacity="0.55"/>
<text x="70.02" y="887.62" font-size="5.60" fill="#666" text-anchor="start">C2</text>
<line x1="58.80" y1="892.00" x2="67.50" y2="892.00" stroke="#F08734" stroke-width="2.60" stroke-opacity="0.55"/>
<text x="70.02" y="894.02" font-size="5.60" fill="#666" text-anchor="start">C3</text>
<line x1="58.80" y1="899.00" x2="67.50" y2="899.00" stroke="#192E24" stroke-width="2.60" stroke-opacity="0.55"/>
<text x="70.02" y="901.02" font-size="5.60" fill="#666" text-anchor="start">C4</text>
<line x1="58.80" y1="906.10" x2="67.50" y2="906.10" stroke="#5A6DBF" stroke-width="2.60" stroke-opacity="0.55"/>
<text x="70.02" y="908.12" font-size="5.60" fill="#666" text-anchor="start">C5</text>
<circle cx="118.70" cy="890.50" r="3.00" fill="#F37A1F" stroke="none" stroke-width="1.00"/>
<text x="125.85" y="893.20" font-size="10.60" fill="#444" text-anchor="start">vs</text>
<circle cx="141.50" cy="890.50" r="3.00" fill="#0F2A1C" stroke="none" stroke-width="1.00"/>
<text x="155.07" y="893.20" font-size="10.40" fill="#444" text-anchor="start">P=2.2e-83</text>
<rect x="380.03" y="968.15" width="0.98" height="13.95" fill="#F37A1F" stroke="none" stroke-width="1.00" fill-opacity="0.25"/>
<rect x="381.01" y="961.18" width="0.98" height="20.92" fill="#F37A1F" stroke="none" stroke-width="1.00" fill-opacity="0.25"/>
<rect x="381.99" y="969.55" width="0.98" height="12.55" fill="#F37A1F" stroke="none" stroke-width="1.00" fill-opacity="0.25"/>
<rect x="389.83" y="966.75" width="0.98" height="15.35" fill="#4FC1EE" stroke="none" stroke-width="1.00" fill-opacity="0.25"/>
<rect x="390.81" y="958.38" width="0.98" height="23.72" fill="#4FC1EE" stroke="none" stroke-width="1.00" fill-opacity="0.25"/>
<rect x="391.79" y="968.15" width="0.98" height="13.95" fill="#4FC1EE" stroke="none" stroke-width="1.00" fill-opacity="0.25"/>
<line x1="264.30" y1="881.00" x2="264.30" y2="982.00" stroke="#A9CFA0" stroke-width="0.80"/>
<path d="M262.4 982.1 L263.4 930 L264.3 901.6 L265.2 930 L266.4 982.1 Z" fill="#2F8A2F" stroke="#2F8A2F" stroke-width="0.60"/>
<path d="M265.5 982.1 L266.6 977 L267.8 982.1 Z" fill="#2F8A2F" stroke="#2F8A2F" stroke-width="0.60"/>
<path d="M377.58 982.10 L377.58 981.50 L377.76 981.32 L377.93 981.11 L378.11 980.84 L378.29 980.52 L378.46 980.15 L378.64 979.71 L378.81 979.20 L378.99 978.61 L379.17 977.96 L379.34 977.23 L379.52 976.43 L379.70 975.57 L379.87 974.65 L380.05 973.70 L380.23 972.73 L380.40 971.75 L380.58 970.79 L380.76 969.86 L380.93 969.00 L381.11 968.23 L381.28 967.56 L381.46 967.02 L381.64 966.62 L381.81 966.37 L381.99 966.29 L382.17 966.37 L382.34 966.62 L382.52 967.02 L382.70 967.56 L382.87 968.23 L383.05 969.00 L383.22 969.86 L383.40 970.79 L383.58 971.75 L383.75 972.73 L383.93 973.70 L384.11 974.65 L384.28 975.57 L384.46 976.43 L384.64 977.23 L384.81 977.96 L384.99 978.61 L385.17 979.20 L385.34 979.71 L385.52 980.15 L385.69 980.52 L385.87 980.84 L386.05 981.11 L386.22 981.32 L386.40 981.50 L386.40 982.10 Z" fill="#F37A1F" stroke="none" stroke-width="1.00" fill-opacity="0.30"/>
<path d="M377.58 981.50 L377.76 981.32 L377.93 981.11 L378.11 980.84 L378.29 980.52 L378.46 980.15 L378.64 979.71 L378.81 979.20 L378.99 978.61 L379.17 977.96 L379.34 977.23 L379.52 976.43 L379.70 975.57 L379.87 974.65 L380.05 973.70 L380.23 972.73 L380.40 971.75 L380.58 970.79 L380.76 969.86 L380.93 969.00 L381.11 968.23 L381.28 967.56 L381.46 967.02 L381.64 966.62 L381.81 966.37 L381.99 966.29 L382.17 966.37 L382.34 966.62 L382.52 967.02 L382.70 967.56 L382.87 968.23 L383.05 969.00 L383.22 969.86 L383.40 970.79 L383.58 971.75 L383.75 972.73 L383.93 973.70 L384.11 974.65 L384.28 975.57 L384.46 976.43 L384.64 977.23 L384.81 977.96 L384.99 978.61 L385.17 979.20 L385.34 979.71 L385.52 980.15 L385.69 980.52 L385.87 980.84 L386.05 981.11 L386.22 981.32 L386.40 981.50" fill="none" stroke="#F37A1F" stroke-width="2.40" stroke-linejoin="round"/>
<path d="M386.89 982.10 L386.89 981.88 L387.08 981.79 L387.26 981.67 L387.45 981.51 L387.63 981.31 L387.82 981.05 L388.01 980.73 L388.19 980.33 L388.38 979.85 L388.57 979.27 L388.75 978.59 L388.94 977.81 L389.12 976.93 L389.31 975.95 L389.50 974.89 L389.68 973.75 L389.87 972.57 L390.06 971.36 L390.24 970.17 L390.43 969.02 L390.61 967.96 L390.80 967.01 L390.99 966.22 L391.17 965.61 L391.36 965.21 L391.54 965.04 L391.73 965.09 L391.92 965.37 L392.10 965.88 L392.29 966.57 L392.48 967.44 L392.66 968.45 L392.85 969.56 L393.03 970.73 L393.22 971.94 L393.41 973.14 L393.59 974.30 L393.78 975.40 L393.97 976.43 L394.15 977.36 L394.34 978.20 L394.52 978.93 L394.71 979.55 L394.90 980.09 L395.08 980.53 L395.27 980.89 L395.46 981.18 L395.64 981.41 L395.83 981.59 L396.01 981.73 L396.20 981.83 L396.20 982.10 Z" fill="#4FC1EE" stroke="none" stroke-width="1.00" fill-opacity="0.30"/>
<path d="M386.89 981.88 L387.08 981.79 L387.26 981.67 L387.45 981.51 L387.63 981.31 L387.82 981.05 L388.01 980.73 L388.19 980.33 L388.38 979.85 L388.57 979.27 L388.75 978.59 L388.94 977.81 L389.12 976.93 L389.31 975.95 L389.50 974.89 L389.68 973.75 L389.87 972.57 L390.06 971.36 L390.24 970.17 L390.43 969.02 L390.61 967.96 L390.80 967.01 L390.99 966.22 L391.17 965.61 L391.36 965.21 L391.54 965.04 L391.73 965.09 L391.92 965.37 L392.10 965.88 L392.29 966.57 L392.48 967.44 L392.66 968.45 L392.85 969.56 L393.03 970.73 L393.22 971.94 L393.41 973.14 L393.59 974.30 L393.78 975.40 L393.97 976.43 L394.15 977.36 L394.34 978.20 L394.52 978.93 L394.71 979.55 L394.90 980.09 L395.08 980.53 L395.27 980.89 L395.46 981.18 L395.64 981.41 L395.83 981.59 L396.01 981.73 L396.20 981.83" fill="none" stroke="#4FC1EE" stroke-width="2.40" stroke-linejoin="round"/>
<rect x="256.70" y="873.40" width="146.80" height="109.20" fill="none" stroke="#111" stroke-width="1.80"/>
<line x1="255.20" y1="884.45" x2="256.70" y2="884.45" stroke="#111" stroke-width="0.90"/>
<text x="255.49" y="886.55" font-size="6.20" fill="#333" text-anchor="end">0.14</text>
<line x1="255.20" y1="898.40" x2="256.70" y2="898.40" stroke="#111" stroke-width="0.90"/>
<text x="255.62" y="900.50" font-size="6.20" fill="#333" text-anchor="end">0.12</text>
<line x1="255.20" y1="912.35" x2="256.70" y2="912.35" stroke="#111" stroke-width="0.90"/>
<text x="255.53" y="914.45" font-size="6.20" fill="#333" text-anchor="end">0.10</text>
<line x1="255.20" y1="926.30" x2="256.70" y2="926.30" stroke="#111" stroke-width="0.90"/>
<text x="255.56" y="928.40" font-size="6.20" fill="#333" text-anchor="end">0.08</text>
<line x1="255.20" y1="940.25" x2="256.70" y2="940.25" stroke="#111" stroke-width="0.90"/>
<text x="255.56" y="942.35" font-size="6.20" fill="#333" text-anchor="end">0.06</text>
<line x1="255.20" y1="954.20" x2="256.70" y2="954.20" stroke="#111" stroke-width="0.90"/>
<text x="255.49" y="956.30" font-size="6.20" fill="#333" text-anchor="end">0.04</text>
<line x1="255.20" y1="968.15" x2="256.70" y2="968.15" stroke="#111" stroke-width="0.90"/>
<text x="255.62" y="970.25" font-size="6.20" fill="#333" text-anchor="end">0.02</text>
<line x1="255.20" y1="982.10" x2="256.70" y2="982.10" stroke="#111" stroke-width="0.90"/>
<text x="255.53" y="984.20" font-size="6.20" fill="#333" text-anchor="end">0.00</text>
<line x1="263.90" y1="982.60" x2="263.90" y2="984.80" stroke="#111" stroke-width="1.00"/>
<text x="259.10" y="996.80" font-size="10.80" fill="#555" text-anchor="middle">-1000</text>
<line x1="283.50" y1="982.60" x2="283.50" y2="984.80" stroke="#111" stroke-width="1.00"/>
<text x="282.20" y="996.80" font-size="10.80" fill="#555" text-anchor="middle">-800</text>
<line x1="303.10" y1="982.60" x2="303.10" y2="984.80" stroke="#111" stroke-width="1.00"/>
<text x="304.30" y="996.80" font-size="10.80" fill="#555" text-anchor="middle">-600</text>
<line x1="322.70" y1="982.60" x2="322.70" y2="984.80" stroke="#111" stroke-width="1.00"/>
<text x="324.40" y="996.80" font-size="10.80" fill="#555" text-anchor="middle">-400</text>
<line x1="342.30" y1="982.60" x2="342.30" y2="984.80" stroke="#111" stroke-width="1.00"/>
<text x="344.40" y="996.80" font-size="10.80" fill="#555" text-anchor="middle">-200</text>
<line x1="361.90" y1="982.60" x2="361.90" y2="984.80" stroke="#111" stroke-width="1.00"/>
<text x="362.30" y="996.80" font-size="10.80" fill="#555" text-anchor="middle">0</text>
<line x1="381.50" y1="982.60" x2="381.50" y2="984.80" stroke="#111" stroke-width="1.00"/>
<text x="382.00" y="996.80" font-size="10.80" fill="#555" text-anchor="middle">200</text>
<line x1="401.10" y1="982.60" x2="401.10" y2="984.80" stroke="#111" stroke-width="1.00"/>
<text x="402.60" y="996.80" font-size="10.80" fill="#555" text-anchor="middle">400</text>
<text x="293.03" y="1010.60" font-size="12.30" fill="#222" text-anchor="start">ΔGR from parent</text>
<text transform="translate(239.90 923.60) rotate(-90)" x="0" y="0" font-size="10.30" fill="#555" text-anchor="middle">Probability Density</text>
<rect x="373.70" y="875.70" width="22.30" height="19.70" fill="#fff" stroke="#D0D0D0" stroke-width="0.80"/>
<line x1="375.50" y1="879.80" x2="383.50" y2="879.80" stroke="#3B8B3F" stroke-width="2.60" stroke-opacity="0.55"/>
<text x="385.81" y="881.17" font-size="3.80" fill="#666" text-anchor="start">C1</text>
<line x1="375.50" y1="885.80" x2="383.50" y2="885.80" stroke="#55BCE8" stroke-width="2.60" stroke-opacity="0.55"/>
<text x="385.81" y="887.17" font-size="3.80" fill="#666" text-anchor="start">C2</text>
<line x1="375.50" y1="891.60" x2="383.50" y2="891.60" stroke="#F08734" stroke-width="2.60" stroke-opacity="0.55"/>
<text x="385.81" y="892.97" font-size="3.80" fill="#666" text-anchor="start">C3</text>
<circle cx="296.20" cy="889.30" r="3.00" fill="#4FC1EE" stroke="none" stroke-width="1.00"/>
<text x="302.85" y="892.30" font-size="10.60" fill="#444" text-anchor="start">vs</text>
<circle cx="318.80" cy="890.20" r="3.00" fill="#F37A1F" stroke="none" stroke-width="1.00"/>
<text x="327.57" y="892.90" font-size="10.40" fill="#444" text-anchor="start">P=2.5e-83</text>
<rect x="506.46" y="982.42" width="0.80" height="3.78" fill="#F7A66A" stroke="none" stroke-width="1.00" fill-opacity="0.35"/>
<rect x="507.26" y="978.21" width="0.80" height="7.99" fill="#F7A66A" stroke="none" stroke-width="1.00" fill-opacity="0.35"/>
<rect x="508.07" y="975.98" width="0.80" height="10.22" fill="#F7A66A" stroke="none" stroke-width="1.00" fill-opacity="0.35"/>
<rect x="508.87" y="967.99" width="0.80" height="18.21" fill="#F7A66A" stroke="none" stroke-width="1.00" fill-opacity="0.35"/>
<rect x="509.67" y="960.51" width="0.80" height="25.69" fill="#F7A66A" stroke="none" stroke-width="1.00" fill-opacity="0.35"/>
<rect x="510.48" y="967.31" width="0.80" height="18.89" fill="#F7A66A" stroke="none" stroke-width="1.00" fill-opacity="0.35"/>
<rect x="511.28" y="963.85" width="0.80" height="22.35" fill="#F7A66A" stroke="none" stroke-width="1.00" fill-opacity="0.35"/>
<rect x="512.09" y="923.23" width="0.80" height="62.97" fill="#F7A66A" stroke="none" stroke-width="1.00" fill-opacity="0.35"/>
<rect x="512.89" y="941.22" width="0.80" height="44.98" fill="#F7A66A" stroke="none" stroke-width="1.00" fill-opacity="0.35"/>
<rect x="513.69" y="936.59" width="0.80" height="49.61" fill="#F7A66A" stroke="none" stroke-width="1.00" fill-opacity="0.35"/>
<rect x="514.50" y="884.17" width="0.80" height="102.03" fill="#F7A66A" stroke="none" stroke-width="1.00" fill-opacity="0.35"/>
<rect x="515.30" y="913.95" width="0.80" height="72.25" fill="#F7A66A" stroke="none" stroke-width="1.00" fill-opacity="0.35"/>
<rect x="516.11" y="889.15" width="0.80" height="97.05" fill="#F7A66A" stroke="none" stroke-width="1.00" fill-opacity="0.35"/>
<rect x="516.91" y="915.46" width="0.80" height="70.74" fill="#F7A66A" stroke="none" stroke-width="1.00" fill-opacity="0.35"/>
<rect x="517.71" y="910.75" width="0.80" height="75.45" fill="#F7A66A" stroke="none" stroke-width="1.00" fill-opacity="0.35"/>
<rect x="518.52" y="944.87" width="0.80" height="41.33" fill="#F7A66A" stroke="none" stroke-width="1.00" fill-opacity="0.35"/>
<rect x="519.32" y="928.60" width="0.80" height="57.60" fill="#F7A66A" stroke="none" stroke-width="1.00" fill-opacity="0.35"/>
<rect x="520.13" y="929.94" width="0.80" height="56.26" fill="#F7A66A" stroke="none" stroke-width="1.00" fill-opacity="0.35"/>
<rect x="520.93" y="951.94" width="0.80" height="34.26" fill="#F7A66A" stroke="none" stroke-width="1.00" fill-opacity="0.35"/>
<rect x="521.73" y="955.18" width="0.80" height="31.02" fill="#F7A66A" stroke="none" stroke-width="1.00" fill-opacity="0.35"/>
<rect x="522.54" y="964.69" width="0.80" height="21.51" fill="#F7A66A" stroke="none" stroke-width="1.00" fill-opacity="0.35"/>
<rect x="523.34" y="978.17" width="0.80" height="8.03" fill="#F7A66A" stroke="none" stroke-width="1.00" fill-opacity="0.35"/>
<rect x="524.15" y="975.32" width="0.80" height="10.88" fill="#F7A66A" stroke="none" stroke-width="1.00" fill-opacity="0.35"/>
<rect x="524.95" y="980.00" width="0.80" height="6.20" fill="#F7A66A" stroke="none" stroke-width="1.00" fill-opacity="0.35"/>
<rect x="525.75" y="983.26" width="0.80" height="2.94" fill="#F7A66A" stroke="none" stroke-width="1.00" fill-opacity="0.35"/>
<rect x="526.56" y="984.95" width="0.80" height="1.25" fill="#F7A66A" stroke="none" stroke-width="1.00" fill-opacity="0.35"/>
<rect x="527.36" y="984.57" width="0.80" height="1.63" fill="#F7A66A" stroke="none" stroke-width="1.00" fill-opacity="0.35"/>
<rect x="528.17" y="985.54" width="0.80" height="0.66" fill="#F7A66A" stroke="none" stroke-width="1.00" fill-opacity="0.35"/>
<rect x="528.97" y="985.77" width="0.80" height="0.43" fill="#F7A66A" stroke="none" stroke-width="1.00" fill-opacity="0.35"/>
<rect x="529.77" y="985.95" width="0.80" height="0.25" fill="#F7A66A" stroke="none" stroke-width="1.00" fill-opacity="0.35"/>
<rect x="609.57" y="986.20" width="0.94" height="0.00" fill="#7FAE6E" stroke="none" stroke-width="1.00" fill-opacity="0.40"/>
<rect x="610.51" y="986.19" width="0.94" height="0.01" fill="#7FAE6E" stroke="none" stroke-width="1.00" fill-opacity="0.40"/>
<rect x="611.45" y="986.19" width="0.94" height="0.01" fill="#7FAE6E" stroke="none" stroke-width="1.00" fill-opacity="0.40"/>
<rect x="612.38" y="986.15" width="0.94" height="0.05" fill="#7FAE6E" stroke="none" stroke-width="1.00" fill-opacity="0.40"/>
<rect x="613.32" y="986.10" width="0.94" height="0.10" fill="#7FAE6E" stroke="none" stroke-width="1.00" fill-opacity="0.40"/>
<rect x="614.26" y="985.89" width="0.94" height="0.31" fill="#7FAE6E" stroke="none" stroke-width="1.00" fill-opacity="0.40"/>
<rect x="615.20" y="985.55" width="0.94" height="0.65" fill="#7FAE6E" stroke="none" stroke-width="1.00" fill-opacity="0.40"/>
<rect x="616.14" y="985.47" width="0.94" height="0.73" fill="#7FAE6E" stroke="none" stroke-width="1.00" fill-opacity="0.40"/>
<rect x="617.07" y="984.75" width="0.94" height="1.45" fill="#7FAE6E" stroke="none" stroke-width="1.00" fill-opacity="0.40"/>
<rect x="618.01" y="983.39" width="0.94" height="2.81" fill="#7FAE6E" stroke="none" stroke-width="1.00" fill-opacity="0.40"/>
<rect x="618.95" y="978.22" width="0.94" height="7.98" fill="#7FAE6E" stroke="none" stroke-width="1.00" fill-opacity="0.40"/>
<rect x="619.89" y="977.19" width="0.94" height="9.01" fill="#7FAE6E" stroke="none" stroke-width="1.00" fill-opacity="0.40"/>
<rect x="620.83" y="970.85" width="0.94" height="15.35" fill="#7FAE6E" stroke="none" stroke-width="1.00" fill-opacity="0.40"/>
<rect x="621.76" y="969.39" width="0.94" height="16.81" fill="#7FAE6E" stroke="none" stroke-width="1.00" fill-opacity="0.40"/>
<rect x="622.70" y="960.23" width="0.94" height="25.97" fill="#7FAE6E" stroke="none" stroke-width="1.00" fill-opacity="0.40"/>
<rect x="623.64" y="956.91" width="0.94" height="29.29" fill="#7FAE6E" stroke="none" stroke-width="1.00" fill-opacity="0.40"/>
<rect x="624.58" y="953.03" width="0.94" height="33.17" fill="#7FAE6E" stroke="none" stroke-width="1.00" fill-opacity="0.40"/>
<rect x="625.52" y="942.75" width="0.94" height="43.45" fill="#7FAE6E" stroke="none" stroke-width="1.00" fill-opacity="0.40"/>
<rect x="626.45" y="940.85" width="0.94" height="45.35" fill="#7FAE6E" stroke="none" stroke-width="1.00" fill-opacity="0.40"/>
<rect x="627.39" y="930.96" width="0.94" height="55.24" fill="#7FAE6E" stroke="none" stroke-width="1.00" fill-opacity="0.40"/>
<rect x="628.33" y="939.45" width="0.94" height="46.75" fill="#7FAE6E" stroke="none" stroke-width="1.00" fill-opacity="0.40"/>
<rect x="629.27" y="934.80" width="0.94" height="51.40" fill="#7FAE6E" stroke="none" stroke-width="1.00" fill-opacity="0.40"/>
<rect x="630.21" y="939.77" width="0.94" height="46.43" fill="#7FAE6E" stroke="none" stroke-width="1.00" fill-opacity="0.40"/>
<rect x="631.14" y="939.34" width="0.94" height="46.86" fill="#7FAE6E" stroke="none" stroke-width="1.00" fill-opacity="0.40"/>
<rect x="632.08" y="950.32" width="0.94" height="35.88" fill="#7FAE6E" stroke="none" stroke-width="1.00" fill-opacity="0.40"/>
<rect x="633.02" y="964.60" width="0.94" height="21.60" fill="#7FAE6E" stroke="none" stroke-width="1.00" fill-opacity="0.40"/>
<rect x="633.96" y="955.34" width="0.94" height="30.86" fill="#7FAE6E" stroke="none" stroke-width="1.00" fill-opacity="0.40"/>
<rect x="634.90" y="960.01" width="0.94" height="26.19" fill="#7FAE6E" stroke="none" stroke-width="1.00" fill-opacity="0.40"/>
<rect x="635.84" y="967.42" width="0.94" height="18.78" fill="#7FAE6E" stroke="none" stroke-width="1.00" fill-opacity="0.40"/>
<rect x="636.77" y="975.83" width="0.94" height="10.37" fill="#7FAE6E" stroke="none" stroke-width="1.00" fill-opacity="0.40"/>
<path d="M501.50 986.20 L501.50 986.19 L502.04 986.18 L502.57 986.17 L503.11 986.16 L503.64 986.12 L504.18 986.08 L504.72 986.00 L505.25 985.89 L505.79 985.72 L506.32 985.47 L506.86 985.12 L507.40 984.63 L507.93 983.97 L508.47 983.10 L509.00 981.96 L509.54 980.54 L510.08 978.78 L510.61 976.67 L511.15 974.21 L511.68 971.42 L512.22 968.35 L512.76 965.07 L513.29 961.70 L513.83 958.37 L514.36 955.22 L514.90 952.42 L515.44 950.10 L515.97 948.40 L516.51 947.43 L517.04 947.21 L517.58 947.38 L518.12 947.78 L518.65 948.40 L519.19 949.23 L519.72 950.26 L520.26 951.46 L520.80 952.82 L521.33 954.32 L521.87 955.92 L522.40 957.62 L522.94 959.38 L523.48 961.18 L524.01 963.00 L524.55 964.81 L525.08 966.60 L525.62 968.35 L526.16 970.03 L526.69 971.64 L527.23 973.17 L527.76 974.61 L528.30 975.95 L528.84 977.19 L529.37 978.32 L529.91 979.35 L530.44 980.29 L530.98 981.12 L531.52 981.87 L532.05 982.52 L532.59 983.10 L533.12 983.60 L533.66 984.03 L534.20 984.40 L534.73 984.72 L535.27 984.99 L535.80 985.21 L536.34 985.40 L536.88 985.56 L537.41 985.69 L537.95 985.79 L538.48 985.88 L539.02 985.95 L539.56 986.00 L540.09 986.05 L540.63 986.08 L541.16 986.11 L541.70 986.13 L542.24 986.15 L542.77 986.16 L543.31 986.17 L543.84 986.18 L544.38 986.18 L544.38 986.20 Z" fill="#4FC1EE" stroke="none" stroke-width="1.00" fill-opacity="0.15"/>
<path d="M501.50 986.19 L502.04 986.18 L502.57 986.17 L503.11 986.16 L503.64 986.12 L504.18 986.08 L504.72 986.00 L505.25 985.89 L505.79 985.72 L506.32 985.47 L506.86 985.12 L507.40 984.63 L507.93 983.97 L508.47 983.10 L509.00 981.96 L509.54 980.54 L510.08 978.78 L510.61 976.67 L511.15 974.21 L511.68 971.42 L512.22 968.35 L512.76 965.07 L513.29 961.70 L513.83 958.37 L514.36 955.22 L514.90 952.42 L515.44 950.10 L515.97 948.40 L516.51 947.43 L517.04 947.21 L517.58 947.38 L518.12 947.78 L518.65 948.40 L519.19 949.23 L519.72 950.26 L520.26 951.46 L520.80 952.82 L521.33 954.32 L521.87 955.92 L522.40 957.62 L522.94 959.38 L523.48 961.18 L524.01 963.00 L524.55 964.81 L525.08 966.60 L525.62 968.35 L526.16 970.03 L526.69 971.64 L527.23 973.17 L527.76 974.61 L528.30 975.95 L528.84 977.19 L529.37 978.32 L529.91 979.35 L530.44 980.29 L530.98 981.12 L531.52 981.87 L532.05 982.52 L532.59 983.10 L533.12 983.60 L533.66 984.03 L534.20 984.40 L534.73 984.72 L535.27 984.99 L535.80 985.21 L536.34 985.40 L536.88 985.56 L537.41 985.69 L537.95 985.79 L538.48 985.88 L539.02 985.95 L539.56 986.00 L540.09 986.05 L540.63 986.08 L541.16 986.11 L541.70 986.13 L542.24 986.15 L542.77 986.16 L543.31 986.17 L543.84 986.18 L544.38 986.18" fill="none" stroke="#4FC1EE" stroke-width="2.40" stroke-linejoin="round"/>
<path d="M498.82 986.20 L499.22 986.19 L499.62 986.19 L500.03 986.19 L500.43 986.18 L500.83 986.17 L501.23 986.16 L501.63 986.14 L502.04 986.12 L502.44 986.09 L502.84 986.04 L503.24 985.98 L503.64 985.90 L504.05 985.80 L504.45 985.66 L504.85 985.47 L505.25 985.24 L505.65 984.95 L506.06 984.57 L506.46 984.11 L506.86 983.55 L507.26 982.86 L507.66 982.03 L508.07 981.04 L508.47 979.88 L508.87 978.54 L509.27 976.99 L509.67 975.24 L510.08 973.27 L510.48 971.09 L510.88 968.72 L511.28 966.16 L511.68 963.44 L512.09 960.59 L512.49 957.66 L512.89 954.69 L513.29 951.74 L513.69 948.86 L514.10 946.13 L514.50 943.60 L514.90 941.33 L515.30 939.39 L515.70 937.82 L516.11 936.66 L516.51 935.96 L516.91 935.72 L517.31 935.96 L517.71 936.66 L518.12 937.82 L518.52 939.39 L518.92 941.33 L519.32 943.60 L519.72 946.13 L520.13 948.86 L520.53 951.74 L520.93 954.69 L521.33 957.66 L521.73 960.59 L522.14 963.44 L522.54 966.16 L522.94 968.72 L523.34 971.09 L523.74 973.27 L524.15 975.24 L524.55 976.99 L524.95 978.54 L525.35 979.88 L525.75 981.04 L526.16 982.03 L526.56 982.86 L526.96 983.55 L527.36 984.11 L527.76 984.57 L528.17 984.95 L528.57 985.24 L528.97 985.47 L529.37 985.66 L529.77 985.80 L530.18 985.90 L530.58 985.98 L530.98 986.04" fill="none" stroke="#F37A1F" stroke-width="2.60" stroke-linejoin="round"/>
<path d="M602.00 986.20 L602.47 986.20 L602.94 986.20 L603.41 986.20 L603.88 986.20 L604.35 986.20 L604.81 986.20 L605.28 986.20 L605.75 986.20 L606.22 986.20 L606.69 986.20 L607.16 986.20 L607.63 986.20 L608.10 986.20 L608.57 986.20 L609.03 986.20 L609.50 986.20 L609.97 986.20 L610.44 986.20 L610.91 986.20 L611.38 986.19 L611.85 986.19 L612.32 986.18 L612.79 986.16 L613.26 986.14 L613.73 986.11 L614.19 986.07 L614.66 986.00 L615.13 985.90 L615.60 985.76 L616.07 985.57 L616.54 985.31 L617.01 984.95 L617.48 984.49 L617.95 983.88 L618.41 983.11 L618.88 982.15 L619.35 980.97 L619.82 979.55 L620.29 977.87 L620.76 975.94 L621.23 973.75 L621.70 971.33 L622.17 968.72 L622.64 965.96 L623.11 963.12 L623.57 960.29 L624.04 957.54 L624.51 954.98 L624.98 952.68 L625.45 950.73 L625.92 949.19 L626.39 948.08 L626.86 947.41 L627.33 947.18 L627.79 947.34 L628.26 947.82 L628.73 948.54 L629.20 949.44 L629.67 950.44 L630.14 951.48 L630.61 952.53 L631.08 953.58 L631.55 954.66 L632.02 955.78 L632.49 957.01 L632.95 958.39 L633.42 959.95 L633.89 961.71 L634.36 963.68 L634.83 965.82 L635.30 968.08 L635.77 970.39 L636.24 972.69 L636.71 974.90 L637.17 976.95 L637.64 978.80 L638.11 980.42 L638.58 981.79 L639.05 982.91 L639.52 983.81 L639.99 984.50 L640.46 985.02 L640.93 985.40 L641.40 985.68 L641.87 985.86 L642.33 985.99 L642.80 986.07 L643.27 986.12 L643.74 986.15 L644.21 986.17 L644.68 986.19 L645.15 986.19 L645.62 986.20 L646.09 986.20 L646.55 986.20 L647.02 986.20 L647.49 986.20 L647.96 986.20 L648.43 986.20 L648.90 986.20" fill="none" stroke="#2F8A2F" stroke-width="2.60" stroke-linejoin="round"/>
<rect x="494.40" y="869.60" width="157.60" height="117.20" fill="none" stroke="#111" stroke-width="1.80"/>
<line x1="492.60" y1="888.45" x2="494.40" y2="888.45" stroke="#111" stroke-width="1.00"/>
<text x="493.67" y="891.55" font-size="8.80" fill="#333" text-anchor="end">0.025</text>
<line x1="492.60" y1="908.00" x2="494.40" y2="908.00" stroke="#111" stroke-width="1.00"/>
<text x="493.63" y="911.10" font-size="8.80" fill="#333" text-anchor="end">0.020</text>
<line x1="492.60" y1="927.55" x2="494.40" y2="927.55" stroke="#111" stroke-width="1.00"/>
<text x="493.67" y="930.65" font-size="8.80" fill="#333" text-anchor="end">0.015</text>
<line x1="492.60" y1="947.10" x2="494.40" y2="947.10" stroke="#111" stroke-width="1.00"/>
<text x="493.63" y="950.20" font-size="8.80" fill="#333" text-anchor="end">0.010</text>
<line x1="492.60" y1="966.65" x2="494.40" y2="966.65" stroke="#111" stroke-width="1.00"/>
<text x="493.67" y="969.75" font-size="8.80" fill="#333" text-anchor="end">0.005</text>
<line x1="492.60" y1="986.20" x2="494.40" y2="986.20" stroke="#111" stroke-width="1.00"/>
<text x="493.63" y="989.30" font-size="8.80" fill="#333" text-anchor="end">0.000</text>
<line x1="501.50" y1="986.80" x2="501.50" y2="989.00" stroke="#111" stroke-width="1.00"/>
<text x="502.50" y="996.60" font-size="8.70" fill="#333" text-anchor="middle">−600</text>
<line x1="528.30" y1="986.80" x2="528.30" y2="989.00" stroke="#111" stroke-width="1.00"/>
<text x="529.30" y="996.60" font-size="8.70" fill="#333" text-anchor="middle">−400</text>
<line x1="555.10" y1="986.80" x2="555.10" y2="989.00" stroke="#111" stroke-width="1.00"/>
<text x="556.10" y="996.60" font-size="8.70" fill="#333" text-anchor="middle">−200</text>
<line x1="581.90" y1="986.80" x2="581.90" y2="989.00" stroke="#111" stroke-width="1.00"/>
<text x="582.90" y="996.60" font-size="8.70" fill="#333" text-anchor="middle">0</text>
<line x1="608.70" y1="986.80" x2="608.70" y2="989.00" stroke="#111" stroke-width="1.00"/>
<text x="609.70" y="996.60" font-size="8.70" fill="#333" text-anchor="middle">200</text>
<line x1="635.50" y1="986.80" x2="635.50" y2="989.00" stroke="#111" stroke-width="1.00"/>
<text x="636.50" y="996.60" font-size="8.70" fill="#333" text-anchor="middle">400</text>
<text x="525.63" y="1011.00" font-size="12.30" fill="#222" text-anchor="start">ΔGR from parent</text>
<text transform="translate(469.60 925.00) rotate(-90)" x="0" y="0" font-size="10.30" fill="#555" text-anchor="middle">Probability Density</text>
<rect x="619.10" y="876.50" width="22.00" height="18.90" fill="#fff" stroke="#D0D0D0" stroke-width="0.80"/>
<line x1="621.00" y1="880.70" x2="629.00" y2="880.70" stroke="#3B8B3F" stroke-width="2.60" stroke-opacity="0.55"/>
<text x="631.31" y="882.07" font-size="3.80" fill="#666" text-anchor="start">C1</text>
<line x1="621.00" y1="886.20" x2="629.00" y2="886.20" stroke="#55BCE8" stroke-width="2.60" stroke-opacity="0.55"/>
<text x="631.31" y="887.57" font-size="3.80" fill="#666" text-anchor="start">C2</text>
<line x1="621.00" y1="891.60" x2="629.00" y2="891.60" stroke="#F08734" stroke-width="2.60" stroke-opacity="0.55"/>
<text x="631.31" y="892.97" font-size="3.80" fill="#666" text-anchor="start">C3</text>
<circle cx="535.30" cy="889.10" r="3.00" fill="#9BC08C" stroke="none" stroke-width="1.00"/>
<text x="541.15" y="892.20" font-size="10.60" fill="#444" text-anchor="start">vs</text>
<circle cx="556.80" cy="889.10" r="3.00" fill="#4FC1EE" stroke="none" stroke-width="1.00"/>
<circle cx="564.40" cy="889.10" r="3.00" fill="#F37A1F" stroke="none" stroke-width="1.00"/>
<text x="568.35" y="892.60" font-size="10.60" fill="#444" text-anchor="start">P=1.3e-110</text>
<rect x="715.97" y="928.14" width="0.60" height="59.36" fill="#BFE6F8" stroke="none" stroke-width="1.00" fill-opacity="0.80"/>
<rect x="716.92" y="891.04" width="0.60" height="96.46" fill="#BFE6F8" stroke="none" stroke-width="1.00" fill-opacity="0.80"/>
<rect x="717.88" y="950.40" width="0.60" height="37.10" fill="#BFE6F8" stroke="none" stroke-width="1.00" fill-opacity="0.80"/>
<rect x="718.83" y="876.20" width="0.60" height="111.30" fill="#BFE6F8" stroke="none" stroke-width="1.00" fill-opacity="0.80"/>
<rect x="719.79" y="913.30" width="0.60" height="74.20" fill="#BFE6F8" stroke="none" stroke-width="1.00" fill-opacity="0.80"/>
<rect x="720.74" y="942.98" width="0.60" height="44.52" fill="#BFE6F8" stroke="none" stroke-width="1.00" fill-opacity="0.80"/>
<rect x="721.70" y="914.78" width="0.60" height="72.72" fill="#BFE6F8" stroke="none" stroke-width="1.00" fill-opacity="0.80"/>
<rect x="722.65" y="935.56" width="0.60" height="51.94" fill="#BFE6F8" stroke="none" stroke-width="1.00" fill-opacity="0.80"/>
<rect x="723.61" y="925.91" width="0.60" height="61.59" fill="#BFE6F8" stroke="none" stroke-width="1.00" fill-opacity="0.80"/>
<rect x="724.56" y="965.24" width="0.60" height="22.26" fill="#BFE6F8" stroke="none" stroke-width="1.00" fill-opacity="0.80"/>
<rect x="725.52" y="972.66" width="0.60" height="14.84" fill="#BFE6F8" stroke="none" stroke-width="1.00" fill-opacity="0.80"/>
<rect x="726.47" y="980.08" width="0.60" height="7.42" fill="#BFE6F8" stroke="none" stroke-width="1.00" fill-opacity="0.80"/>
<rect x="834.80" y="980.08" width="0.69" height="7.42" fill="#9CC28C" stroke="none" stroke-width="1.00" fill-opacity="0.60"/>
<rect x="835.75" y="965.24" width="0.69" height="22.26" fill="#9CC28C" stroke="none" stroke-width="1.00" fill-opacity="0.60"/>
<rect x="836.71" y="946.69" width="0.69" height="40.81" fill="#9CC28C" stroke="none" stroke-width="1.00" fill-opacity="0.60"/>
<rect x="837.66" y="933.33" width="0.69" height="54.17" fill="#9CC28C" stroke="none" stroke-width="1.00" fill-opacity="0.60"/>
<rect x="838.62" y="954.11" width="0.69" height="33.39" fill="#9CC28C" stroke="none" stroke-width="1.00" fill-opacity="0.60"/>
<rect x="839.57" y="950.40" width="0.69" height="37.10" fill="#9CC28C" stroke="none" stroke-width="1.00" fill-opacity="0.60"/>
<rect x="840.53" y="957.82" width="0.69" height="29.68" fill="#9CC28C" stroke="none" stroke-width="1.00" fill-opacity="0.60"/>
<rect x="841.48" y="938.53" width="0.69" height="48.97" fill="#9CC28C" stroke="none" stroke-width="1.00" fill-opacity="0.60"/>
<rect x="842.44" y="954.11" width="0.69" height="33.39" fill="#9CC28C" stroke="none" stroke-width="1.00" fill-opacity="0.60"/>
<rect x="843.39" y="965.24" width="0.69" height="22.26" fill="#9CC28C" stroke="none" stroke-width="1.00" fill-opacity="0.60"/>
<rect x="844.34" y="972.66" width="0.69" height="14.84" fill="#9CC28C" stroke="none" stroke-width="1.00" fill-opacity="0.60"/>
<rect x="845.30" y="980.08" width="0.69" height="7.42" fill="#9CC28C" stroke="none" stroke-width="1.00" fill-opacity="0.60"/>
<rect x="846.25" y="983.79" width="0.69" height="3.71" fill="#9CC28C" stroke="none" stroke-width="1.00" fill-opacity="0.60"/>
<rect x="847.21" y="986.02" width="0.69" height="1.48" fill="#9CC28C" stroke="none" stroke-width="1.00" fill-opacity="0.60"/>
<path d="M708.85 987.47 L709.32 987.45 L709.79 987.41 L710.26 987.37 L710.73 987.30 L711.20 987.19 L711.67 987.04 L712.14 986.83 L712.61 986.54 L713.08 986.15 L713.55 985.64 L714.02 984.96 L714.49 984.10 L714.96 983.03 L715.43 981.72 L715.90 980.15 L716.37 978.31 L716.84 976.20 L717.31 973.84 L717.78 971.27 L718.25 968.55 L718.72 965.74 L719.19 962.93 L719.66 960.24 L720.13 957.75 L720.60 955.59 L721.07 953.85 L721.54 952.62 L722.01 951.95 L722.48 951.88 L722.96 952.41 L723.43 953.52 L723.90 955.15 L724.37 957.22 L724.84 959.64 L725.31 962.30 L725.78 965.09 L726.25 967.90 L726.72 970.66 L727.19 973.27 L727.66 975.68 L728.13 977.84 L728.60 979.75 L729.07 981.38 L729.54 982.75 L730.01 983.88 L730.48 984.78 L730.95 985.50 L731.42 986.05 L731.89 986.46 L732.36 986.77 L732.83 987.00 L733.30 987.16 L733.77 987.27 L734.24 987.35 L734.71 987.41 L735.18 987.44 L735.65 987.46 L736.12 987.48 L736.59 987.49 L737.06 987.49" fill="none" stroke="#4FC1EE" stroke-width="2.80" stroke-linejoin="round"/>
<path d="M823.86 987.50 L828.20 986.02 L830.80 983.05 L833.41 977.11 L836.01 965.24 L838.18 957.82 L839.70 955.97 L841.22 958.56 L842.96 959.30 L844.91 960.05 L846.43 966.72 L847.73 976.37 L849.03 983.79 L850.77 986.76 L853.37 987.50" fill="none" stroke="#2F8A2F" stroke-width="2.80" stroke-linejoin="round"/>
<rect x="702.70" y="870.20" width="158.10" height="117.30" fill="none" stroke="#111" stroke-width="1.80"/>
<line x1="701.00" y1="883.62" x2="702.70" y2="883.62" stroke="#111" stroke-width="1.00"/>
<text x="700.87" y="886.62" font-size="8.50" fill="#333" text-anchor="end">0.14</text>
<line x1="701.00" y1="898.46" x2="702.70" y2="898.46" stroke="#111" stroke-width="1.00"/>
<text x="701.04" y="901.46" font-size="8.50" fill="#333" text-anchor="end">0.12</text>
<line x1="701.00" y1="913.30" x2="702.70" y2="913.30" stroke="#111" stroke-width="1.00"/>
<text x="700.91" y="916.30" font-size="8.50" fill="#333" text-anchor="end">0.10</text>
<line x1="701.00" y1="928.14" x2="702.70" y2="928.14" stroke="#111" stroke-width="1.00"/>
<text x="700.95" y="931.14" font-size="8.50" fill="#333" text-anchor="end">0.08</text>
<line x1="701.00" y1="942.98" x2="702.70" y2="942.98" stroke="#111" stroke-width="1.00"/>
<text x="700.95" y="945.98" font-size="8.50" fill="#333" text-anchor="end">0.06</text>
<line x1="701.00" y1="957.82" x2="702.70" y2="957.82" stroke="#111" stroke-width="1.00"/>
<text x="700.87" y="960.82" font-size="8.50" fill="#333" text-anchor="end">0.04</text>
<line x1="701.00" y1="972.66" x2="702.70" y2="972.66" stroke="#111" stroke-width="1.00"/>
<text x="701.04" y="975.66" font-size="8.50" fill="#333" text-anchor="end">0.02</text>
<line x1="701.00" y1="987.50" x2="702.70" y2="987.50" stroke="#111" stroke-width="1.00"/>
<text x="700.91" y="990.50" font-size="8.50" fill="#333" text-anchor="end">0.00</text>
<line x1="719.70" y1="987.50" x2="719.70" y2="989.70" stroke="#111" stroke-width="1.00"/>
<text x="720.50" y="997.00" font-size="8.70" fill="#333" text-anchor="middle">100</text>
<line x1="741.40" y1="987.50" x2="741.40" y2="989.70" stroke="#111" stroke-width="1.00"/>
<text x="742.20" y="997.00" font-size="8.70" fill="#333" text-anchor="middle">150</text>
<line x1="763.10" y1="987.50" x2="763.10" y2="989.70" stroke="#111" stroke-width="1.00"/>
<text x="763.90" y="997.00" font-size="8.70" fill="#333" text-anchor="middle">200</text>
<line x1="784.80" y1="987.50" x2="784.80" y2="989.70" stroke="#111" stroke-width="1.00"/>
<text x="785.60" y="997.00" font-size="8.70" fill="#333" text-anchor="middle">250</text>
<line x1="806.50" y1="987.50" x2="806.50" y2="989.70" stroke="#111" stroke-width="1.00"/>
<text x="807.30" y="997.00" font-size="8.70" fill="#333" text-anchor="middle">300</text>
<line x1="828.20" y1="987.50" x2="828.20" y2="989.70" stroke="#111" stroke-width="1.00"/>
<text x="829.00" y="997.00" font-size="8.70" fill="#333" text-anchor="middle">350</text>
<line x1="849.90" y1="987.50" x2="849.90" y2="989.70" stroke="#111" stroke-width="1.00"/>
<text x="850.70" y="997.00" font-size="8.70" fill="#333" text-anchor="middle">400</text>
<text x="740.23" y="1010.30" font-size="12.30" fill="#222" text-anchor="start">ΔGR from parent</text>
<text transform="translate(680.30 931.00) rotate(-90)" x="0" y="0" font-size="10.30" fill="#555" text-anchor="middle">Probability Density</text>
<rect x="830.70" y="876.40" width="21.90" height="15.50" fill="#fff" stroke="#D0D0D0" stroke-width="0.80"/>
<line x1="834.10" y1="881.20" x2="842.70" y2="881.20" stroke="#3B8B3F" stroke-width="2.60" stroke-opacity="0.55"/>
<text x="845.99" y="882.71" font-size="4.20" fill="#666" text-anchor="start">C1</text>
<line x1="834.10" y1="887.40" x2="842.70" y2="887.40" stroke="#55BCE8" stroke-width="2.60" stroke-opacity="0.55"/>
<text x="845.99" y="888.91" font-size="4.20" fill="#666" text-anchor="start">C2</text>
<rect x="0.00" y="0.00" width="869.00" height="2.00" fill="#000" stroke="none" stroke-width="1.00"/>
<rect x="0.00" y="0.00" width="2.00" height="1022.00" fill="#000" stroke="none" stroke-width="1.00"/>
<rect x="867.00" y="0.00" width="2.00" height="1022.00" fill="#000" stroke="none" stroke-width="1.00"/>
<rect x="0.00" y="1019.00" width="869.00" height="3.00" fill="#000" stroke="none" stroke-width="1.00"/>
</svg>
</body></html>
